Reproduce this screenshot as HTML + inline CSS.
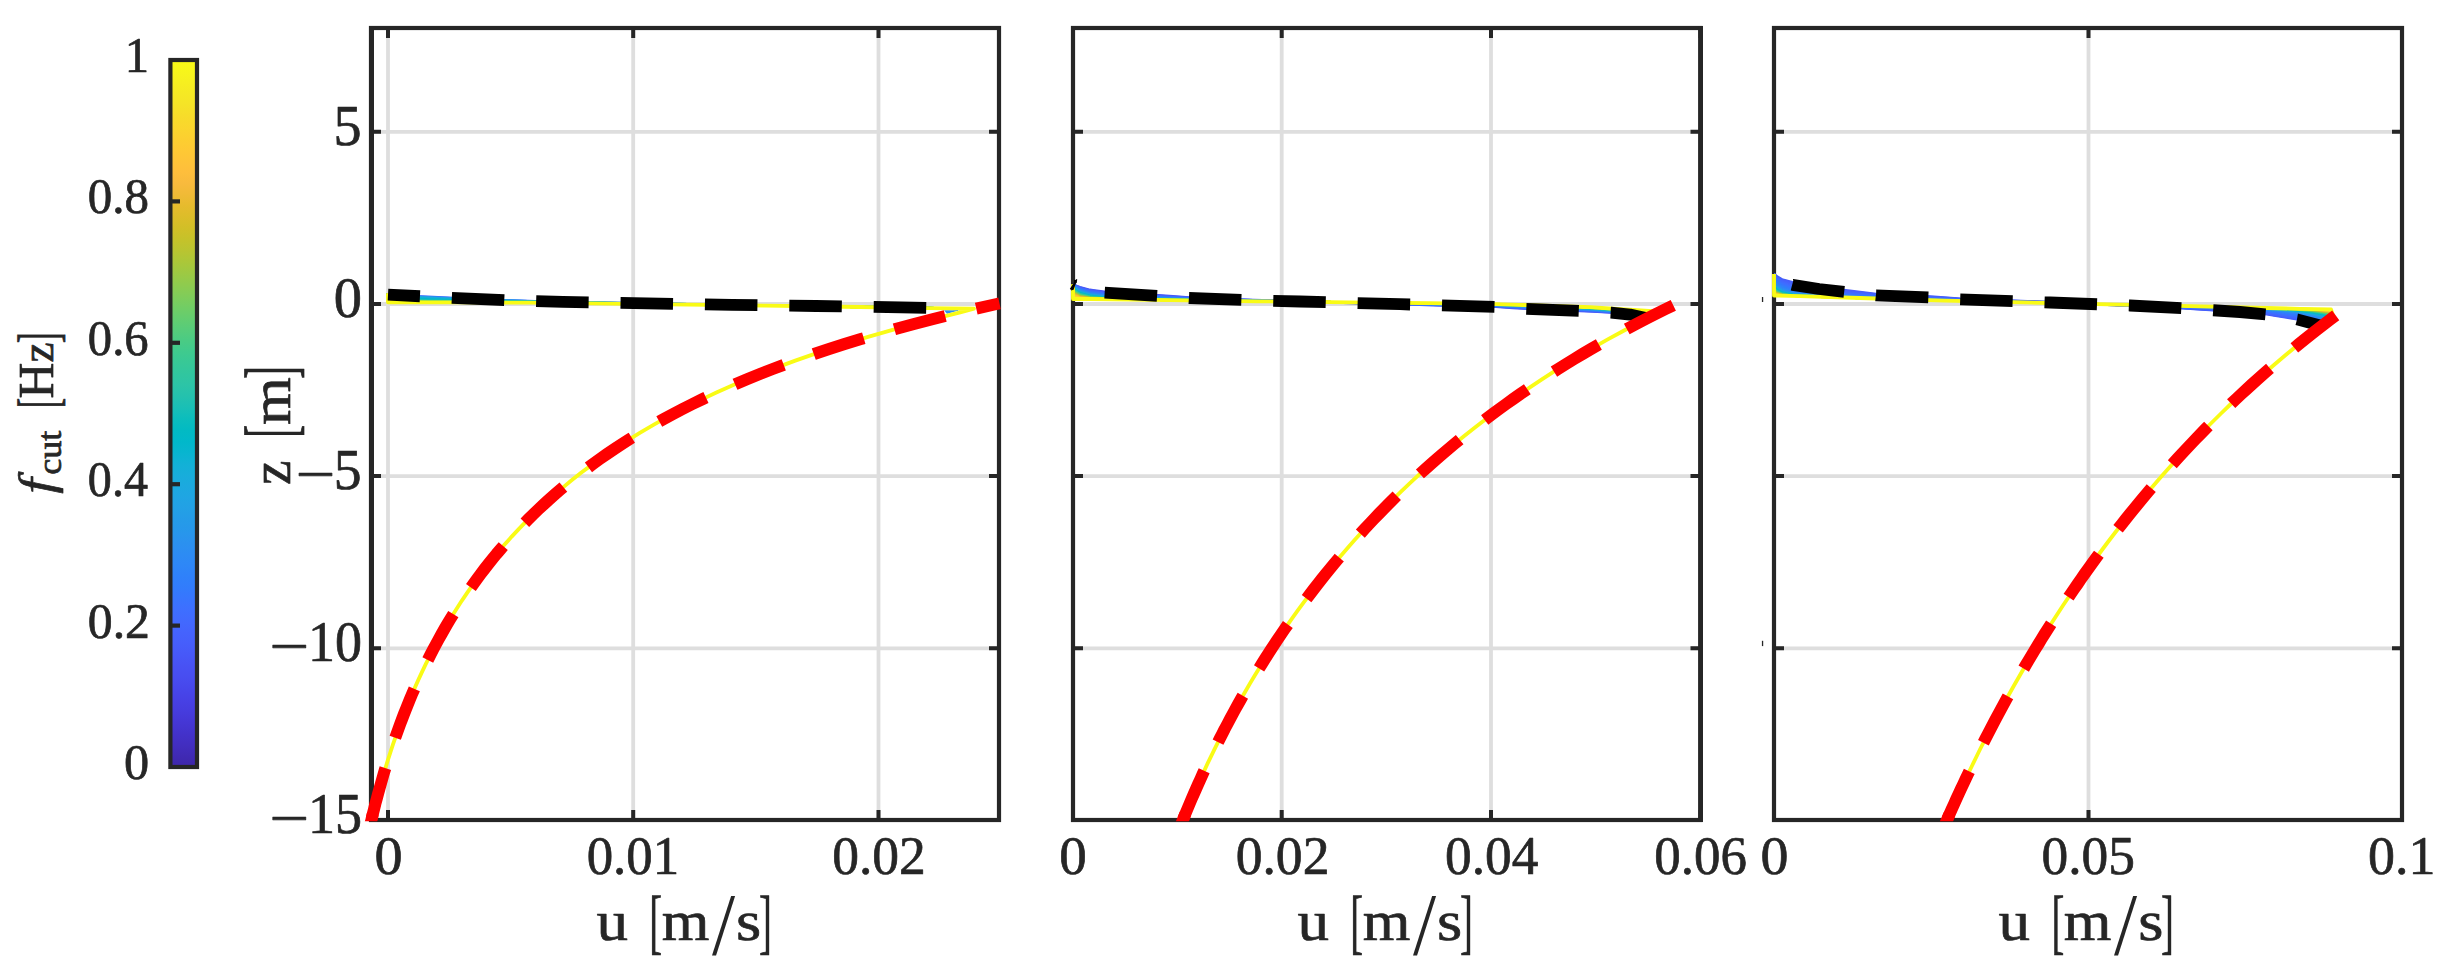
<!DOCTYPE html>
<html lang="en"><head><meta charset="utf-8"><title>u(z) profiles</title>
<style>html,body{margin:0;padding:0;background:#fff;overflow:hidden}svg{display:block}text{font-family:"Liberation Serif","DejaVu Serif",serif;fill:#262626;stroke:#262626;stroke-width:0.7px;stroke-linejoin:round}</style></head>
<body>
<svg width="2446" height="970" viewBox="0 0 2446 970">
<rect width="2446" height="970" fill="#fff"/>
<defs><linearGradient id="pg" gradientUnits="userSpaceOnUse" x1="0" y1="767" x2="0" y2="60">
<stop offset="0.0000" stop-color="#3e26a8"/>
<stop offset="0.0159" stop-color="#402ab4"/>
<stop offset="0.0317" stop-color="#422ec0"/>
<stop offset="0.0476" stop-color="#4332cb"/>
<stop offset="0.0635" stop-color="#4537d5"/>
<stop offset="0.0794" stop-color="#463cde"/>
<stop offset="0.0952" stop-color="#4741e5"/>
<stop offset="0.1111" stop-color="#4747eb"/>
<stop offset="0.1270" stop-color="#484df0"/>
<stop offset="0.1429" stop-color="#4852f4"/>
<stop offset="0.1587" stop-color="#4758f8"/>
<stop offset="0.1746" stop-color="#465efb"/>
<stop offset="0.1905" stop-color="#4563fd"/>
<stop offset="0.2063" stop-color="#4269fe"/>
<stop offset="0.2222" stop-color="#3e6fff"/>
<stop offset="0.2381" stop-color="#3875fe"/>
<stop offset="0.2540" stop-color="#327cfc"/>
<stop offset="0.2698" stop-color="#2f81fa"/>
<stop offset="0.2857" stop-color="#2e87f7"/>
<stop offset="0.3016" stop-color="#2d8cf3"/>
<stop offset="0.3175" stop-color="#2b91ef"/>
<stop offset="0.3333" stop-color="#2797eb"/>
<stop offset="0.3492" stop-color="#259be8"/>
<stop offset="0.3651" stop-color="#23a0e5"/>
<stop offset="0.3810" stop-color="#20a5e3"/>
<stop offset="0.3968" stop-color="#1ca9df"/>
<stop offset="0.4127" stop-color="#18addb"/>
<stop offset="0.4286" stop-color="#12b1d6"/>
<stop offset="0.4444" stop-color="#08b5d0"/>
<stop offset="0.4603" stop-color="#01b8ca"/>
<stop offset="0.4762" stop-color="#02bac3"/>
<stop offset="0.4921" stop-color="#0bbdbd"/>
<stop offset="0.5079" stop-color="#19bfb6"/>
<stop offset="0.5238" stop-color="#24c1ae"/>
<stop offset="0.5397" stop-color="#2cc4a7"/>
<stop offset="0.5556" stop-color="#31c69f"/>
<stop offset="0.5714" stop-color="#37c897"/>
<stop offset="0.5873" stop-color="#3fca8e"/>
<stop offset="0.6032" stop-color="#4acb84"/>
<stop offset="0.6190" stop-color="#57cc7a"/>
<stop offset="0.6349" stop-color="#64cd6f"/>
<stop offset="0.6508" stop-color="#72cd64"/>
<stop offset="0.6667" stop-color="#81cc59"/>
<stop offset="0.6825" stop-color="#8fcb4e"/>
<stop offset="0.6984" stop-color="#9dc943"/>
<stop offset="0.7143" stop-color="#abc739"/>
<stop offset="0.7302" stop-color="#b9c431"/>
<stop offset="0.7460" stop-color="#c5c22a"/>
<stop offset="0.7619" stop-color="#d1bf27"/>
<stop offset="0.7778" stop-color="#dcbd29"/>
<stop offset="0.7937" stop-color="#e6bb2d"/>
<stop offset="0.8095" stop-color="#f0ba36"/>
<stop offset="0.8254" stop-color="#f8ba3d"/>
<stop offset="0.8413" stop-color="#febe3c"/>
<stop offset="0.8571" stop-color="#fec338"/>
<stop offset="0.8730" stop-color="#fec934"/>
<stop offset="0.8889" stop-color="#fccf30"/>
<stop offset="0.9048" stop-color="#fad62d"/>
<stop offset="0.9206" stop-color="#f7dc2a"/>
<stop offset="0.9365" stop-color="#f5e327"/>
<stop offset="0.9524" stop-color="#f5e924"/>
<stop offset="0.9683" stop-color="#f6ef20"/>
<stop offset="0.9841" stop-color="#f7f51b"/>
<stop offset="1.0000" stop-color="#f9fb15"/>
</linearGradient>
<clipPath id="c1"><rect x="363.0" y="28.0" width="638.0" height="793.2"/></clipPath>
<clipPath id="c2"><rect x="1065.0" y="28.0" width="637.5" height="793.2"/></clipPath>
<clipPath id="c3"><rect x="1766.0" y="28.0" width="638.0" height="793.2"/></clipPath>
</defs>
<g id="colorbar">
<rect x="170.4" y="60" width="26.6" height="707" fill="url(#pg)"/>
<rect x="170.4" y="60" width="26.6" height="707" fill="none" stroke="#262626" stroke-width="4.2"/>
<line x1="170.4" y1="625.6" x2="180" y2="625.6" stroke="#262626" stroke-width="4.2"/>
<line x1="170.4" y1="484.2" x2="180" y2="484.2" stroke="#262626" stroke-width="4.2"/>
<line x1="170.4" y1="342.8" x2="180" y2="342.8" stroke="#262626" stroke-width="4.2"/>
<line x1="170.4" y1="201.4" x2="180" y2="201.4" stroke="#262626" stroke-width="4.2"/>
</g>
<g id="panel1">
<path d="M388.0 28.0V820.0M633.2 28.0V820.0M878.5 28.0V820.0M371.0 131.8H999.0M371.0 304.0H999.0M371.0 476.1H999.0M371.0 648.3H999.0" stroke="#dedede" stroke-width="3.8" fill="none"/>
<rect x="371.0" y="28.0" width="628.0" height="792.0" fill="none" stroke="#262626" stroke-width="4.2"/>
<path d="M388.0 820.0v-10M388.0 28.0v10M633.2 820.0v-10M633.2 28.0v10M878.5 820.0v-10M878.5 28.0v10M371.0 131.8h10M999.0 131.8h-10M371.0 304.0h10M999.0 304.0h-10M371.0 476.1h10M999.0 476.1h-10M371.0 648.3h10M999.0 648.3h-10" stroke="#262626" stroke-width="4" fill="none"/>
<line x1="371.6" y1="26" x2="371.6" y2="822" stroke="#262626" stroke-width="4.8"/>
<g clip-path="url(#c1)" fill="none" stroke-linejoin="round">
<polyline points="388.0,293.5 388.0,294.6 408.0,295.6 421.0,296.3 428.0,296.6 448.0,297.6 452.0,297.8 468.0,298.5 488.0,299.4 505.0,300.2 508.0,300.3 528.0,300.9 548.0,301.5 563.0,301.9 568.0,302.0 588.0,302.3 608.0,302.7 628.0,303.1 647.0,303.4 648.0,303.4 668.0,303.7 688.0,304.1 708.0,304.4 728.0,304.7 732.0,304.8 748.0,305.0 768.0,305.3 788.0,305.6 808.0,305.9 816.0,306.0 828.0,306.2 848.0,306.5 868.0,306.9 888.0,307.2 901.0,307.4 908.0,307.5 928.0,307.9 935.0,308.0 948.0,308.7 957.0,309.2 958.0,309.2" stroke="#4367fd" stroke-width="2.2"/>
<polyline points="388.0,293.5 388.0,294.8 408.0,295.9 421.0,296.7 428.0,297.0 448.0,297.9 452.0,298.1 468.0,298.8 488.0,299.6 505.0,300.4 508.0,300.4 528.0,301.0 548.0,301.6 563.0,302.0 568.0,302.1 588.0,302.4 608.0,302.8 628.0,303.1 647.0,303.4 648.0,303.5 668.0,303.8 688.0,304.1 708.0,304.4 728.0,304.8 732.0,304.8 748.0,305.1 768.0,305.3 788.0,305.6 808.0,305.9 816.0,306.0 828.0,306.2 848.0,306.5 868.0,306.9 888.0,307.2 901.0,307.4 908.0,307.5 928.0,307.9 935.0,308.0 948.0,308.7 957.0,309.2 958.0,309.2" stroke="#307ffb" stroke-width="2.2"/>
<polyline points="388.0,293.5 388.0,295.0 408.0,296.3 421.0,297.0 428.0,297.4 448.0,298.3 452.0,298.4 468.0,299.1 488.0,299.9 505.0,300.5 508.0,300.6 528.0,301.1 548.0,301.7 563.0,302.1 568.0,302.1 588.0,302.5 608.0,302.8 628.0,303.2 647.0,303.5 648.0,303.5 668.0,303.8 688.0,304.1 708.0,304.5 728.0,304.8 732.0,304.9 748.0,305.1 768.0,305.4 788.0,305.6 808.0,305.9 816.0,306.0 828.0,306.2 848.0,306.6 868.0,306.9 888.0,307.2 901.0,307.4 908.0,307.5 928.0,307.9 935.0,308.0 948.0,308.7 957.0,309.1 958.0,309.1" stroke="#2895ec" stroke-width="2.2"/>
<polyline points="388.0,293.5 388.0,295.3 408.0,296.6 421.0,297.3 428.0,297.7 448.0,298.6 452.0,298.7 468.0,299.3 488.0,300.1 505.0,300.7 508.0,300.8 528.0,301.2 548.0,301.8 563.0,302.1 568.0,302.2 588.0,302.6 608.0,302.9 628.0,303.2 647.0,303.5 648.0,303.5 668.0,303.9 688.0,304.2 708.0,304.5 728.0,304.8 732.0,304.9 748.0,305.1 768.0,305.4 788.0,305.7 808.0,306.0 816.0,306.1 828.0,306.3 848.0,306.6 868.0,306.9 888.0,307.2 901.0,307.4 908.0,307.6 928.0,307.9 935.0,308.0 948.0,308.7 957.0,309.1 958.0,309.1" stroke="#20a5e2" stroke-width="2.2"/>
<polyline points="388.0,293.5 388.0,295.5 408.0,296.9 421.0,297.7 428.0,298.0 448.0,298.9 452.0,299.0 468.0,299.5 488.0,300.2 505.0,300.8 508.0,300.9 528.0,301.3 548.0,301.8 563.0,302.2 568.0,302.3 588.0,302.6 608.0,302.9 628.0,303.3 647.0,303.6 648.0,303.6 668.0,303.9 688.0,304.2 708.0,304.5 728.0,304.8 732.0,304.9 748.0,305.1 768.0,305.4 788.0,305.7 808.0,306.0 816.0,306.1 828.0,306.3 848.0,306.6 868.0,306.9 888.0,307.2 901.0,307.4 908.0,307.6 928.0,307.9 935.0,308.0 948.0,308.7 957.0,309.1 958.0,309.1" stroke="#1da8e0" stroke-width="2.2"/>
<polyline points="388.0,293.5 388.0,295.7 408.0,297.1 421.0,298.0 428.0,298.4 448.0,299.1 452.0,299.3 468.0,299.8 488.0,300.4 505.0,301.0 508.0,301.0 528.0,301.5 548.0,301.9 563.0,302.3 568.0,302.4 588.0,302.7 608.0,303.0 628.0,303.3 647.0,303.6 648.0,303.6 668.0,303.9 688.0,304.2 708.0,304.5 728.0,304.9 732.0,304.9 748.0,305.1 768.0,305.4 788.0,305.7 808.0,306.0 816.0,306.1 828.0,306.3 848.0,306.6 868.0,306.9 888.0,307.3 901.0,307.5 908.0,307.6 928.0,307.9 935.0,308.0 948.0,308.6 957.0,309.1 958.0,309.1" stroke="#1aacdd" stroke-width="2.2"/>
<polyline points="388.0,293.5 388.0,295.9 408.0,297.4 421.0,298.3 428.0,298.7 448.0,299.4 452.0,299.5 468.0,300.0 488.0,300.6 505.0,301.1 508.0,301.2 528.0,301.6 548.0,302.0 563.0,302.3 568.0,302.4 588.0,302.7 608.0,303.0 628.0,303.4 647.0,303.6 648.0,303.7 668.0,304.0 688.0,304.3 708.0,304.6 728.0,304.9 732.0,304.9 748.0,305.2 768.0,305.4 788.0,305.7 808.0,306.0 816.0,306.1 828.0,306.3 848.0,306.6 868.0,306.9 888.0,307.3 901.0,307.5 908.0,307.6 928.0,307.9 935.0,308.0 948.0,308.6 957.0,309.0 958.0,309.0" stroke="#16aeda" stroke-width="2.2"/>
<polyline points="388.0,293.5 388.0,296.1 408.0,297.7 421.0,298.6 428.0,299.0 448.0,299.6 452.0,299.8 468.0,300.2 488.0,300.8 505.0,301.2 508.0,301.3 528.0,301.7 548.0,302.1 563.0,302.4 568.0,302.5 588.0,302.8 608.0,303.1 628.0,303.4 647.0,303.7 648.0,303.7 668.0,304.0 688.0,304.3 708.0,304.6 728.0,304.9 732.0,305.0 748.0,305.2 768.0,305.5 788.0,305.7 808.0,306.0 816.0,306.2 828.0,306.3 848.0,306.6 868.0,307.0 888.0,307.3 901.0,307.5 908.0,307.6 928.0,307.9 935.0,308.0 948.0,308.6 957.0,309.0 958.0,309.0" stroke="#11b1d6" stroke-width="2.2"/>
<polyline points="388.0,293.5 388.0,296.4 408.0,298.0 421.0,298.8 428.0,299.2 448.0,299.9 452.0,300.0 468.0,300.4 488.0,300.9 505.0,301.3 508.0,301.4 528.0,301.7 548.0,302.2 563.0,302.5 568.0,302.5 588.0,302.8 608.0,303.1 628.0,303.4 647.0,303.7 648.0,303.7 668.0,304.0 688.0,304.3 708.0,304.6 728.0,304.9 732.0,305.0 748.0,305.2 768.0,305.5 788.0,305.8 808.0,306.1 816.0,306.2 828.0,306.4 848.0,306.7 868.0,307.0 888.0,307.3 901.0,307.5 908.0,307.6 928.0,307.9 935.0,308.0 948.0,308.6 957.0,309.0 958.0,309.0" stroke="#0ab4d2" stroke-width="2.2"/>
<polyline points="388.0,293.5 388.0,296.6 408.0,298.2 421.0,299.1 428.0,299.5 448.0,300.1 452.0,300.2 468.0,300.6 488.0,301.1 505.0,301.5 508.0,301.5 528.0,301.8 548.0,302.2 563.0,302.5 568.0,302.6 588.0,302.9 608.0,303.2 628.0,303.5 647.0,303.7 648.0,303.8 668.0,304.1 688.0,304.3 708.0,304.6 728.0,304.9 732.0,305.0 748.0,305.2 768.0,305.5 788.0,305.8 808.0,306.1 816.0,306.2 828.0,306.4 848.0,306.7 868.0,307.0 888.0,307.3 901.0,307.5 908.0,307.6 928.0,307.9 935.0,308.1 948.0,308.6 957.0,309.0 958.0,309.0" stroke="#04b6cd" stroke-width="2.2"/>
<polyline points="388.0,293.5 388.0,296.8 408.0,298.5 421.0,299.4 428.0,299.7 448.0,300.3 452.0,300.4 468.0,300.7 488.0,301.2 505.0,301.6 508.0,301.6 528.0,301.9 548.0,302.3 563.0,302.6 568.0,302.6 588.0,302.9 608.0,303.2 628.0,303.5 647.0,303.8 648.0,303.8 668.0,304.1 688.0,304.4 708.0,304.7 728.0,305.0 732.0,305.0 748.0,305.2 768.0,305.5 788.0,305.8 808.0,306.1 816.0,306.2 828.0,306.4 848.0,306.7 868.0,307.0 888.0,307.3 901.0,307.5 908.0,307.6 928.0,308.0 935.0,308.1 948.0,308.6 957.0,308.9 958.0,308.9" stroke="#01b8c8" stroke-width="2.2"/>
<polyline points="388.0,293.5 388.0,297.0 408.0,298.8 421.0,299.6 428.0,300.0 448.0,300.5 452.0,300.6 468.0,300.9 488.0,301.3 505.0,301.7 508.0,301.7 528.0,302.0 548.0,302.3 563.0,302.6 568.0,302.7 588.0,303.0 608.0,303.3 628.0,303.5 647.0,303.8 648.0,303.8 668.0,304.1 688.0,304.4 708.0,304.7 728.0,305.0 732.0,305.0 748.0,305.2 768.0,305.5 788.0,305.8 808.0,306.1 816.0,306.2 828.0,306.4 848.0,306.7 868.0,307.0 888.0,307.3 901.0,307.5 908.0,307.6 928.0,308.0 935.0,308.1 948.0,308.6 957.0,308.9 958.0,308.9" stroke="#02bac4" stroke-width="2.2"/>
<polyline points="388.0,293.5 388.0,297.2 408.0,299.0 421.0,299.8 428.0,300.2 448.0,300.7 452.0,300.8 468.0,301.1 488.0,301.4 505.0,301.8 508.0,301.8 528.0,302.1 548.0,302.4 563.0,302.7 568.0,302.7 588.0,303.0 608.0,303.3 628.0,303.6 647.0,303.8 648.0,303.8 668.0,304.1 688.0,304.4 708.0,304.7 728.0,305.0 732.0,305.0 748.0,305.3 768.0,305.5 788.0,305.8 808.0,306.1 816.0,306.2 828.0,306.4 848.0,306.7 868.0,307.0 888.0,307.3 901.0,307.5 908.0,307.6 928.0,308.0 935.0,308.1 948.0,308.5 957.0,308.9 958.0,308.9" stroke="#07bcbf" stroke-width="2.2"/>
<polyline points="388.0,293.5 388.0,297.5 408.0,299.2 421.0,300.1 428.0,300.4 448.0,300.9 452.0,301.0 468.0,301.2 488.0,301.6 505.0,301.8 508.0,301.9 528.0,302.1 548.0,302.5 563.0,302.7 568.0,302.8 588.0,303.1 608.0,303.3 628.0,303.6 647.0,303.9 648.0,303.9 668.0,304.2 688.0,304.4 708.0,304.7 728.0,305.0 732.0,305.1 748.0,305.3 768.0,305.5 788.0,305.8 808.0,306.1 816.0,306.2 828.0,306.4 848.0,306.7 868.0,307.0 888.0,307.3 901.0,307.5 908.0,307.7 928.0,308.0 935.0,308.1 948.0,308.5 957.0,308.9 958.0,308.9" stroke="#0fbebb" stroke-width="2.2"/>
<polyline points="388.0,293.5 388.0,297.7 408.0,299.5 421.0,300.3 428.0,300.6 448.0,301.1 452.0,301.1 468.0,301.3 488.0,301.7 505.0,301.9 508.0,302.0 528.0,302.2 548.0,302.5 563.0,302.8 568.0,302.8 588.0,303.1 608.0,303.4 628.0,303.6 647.0,303.9 648.0,303.9 668.0,304.2 688.0,304.5 708.0,304.7 728.0,305.0 732.0,305.1 748.0,305.3 768.0,305.6 788.0,305.8 808.0,306.1 816.0,306.3 828.0,306.4 848.0,306.7 868.0,307.0 888.0,307.3 901.0,307.5 908.0,307.7 928.0,308.0 935.0,308.1 948.0,308.5 957.0,308.8 958.0,308.8" stroke="#17bfb6" stroke-width="2.2"/>
<polyline points="388.0,293.5 388.0,297.9 408.0,299.7 421.0,300.5 428.0,300.8 448.0,301.2 452.0,301.3 468.0,301.5 488.0,301.8 505.0,302.0 508.0,302.0 528.0,302.2 548.0,302.6 563.0,302.8 568.0,302.9 588.0,303.1 608.0,303.4 628.0,303.7 647.0,303.9 648.0,303.9 668.0,304.2 688.0,304.5 708.0,304.7 728.0,305.0 732.0,305.1 748.0,305.3 768.0,305.6 788.0,305.9 808.0,306.1 816.0,306.3 828.0,306.4 848.0,306.7 868.0,307.0 888.0,307.4 901.0,307.6 908.0,307.7 928.0,308.0 935.0,308.1 948.0,308.5 957.0,308.8 958.0,308.8" stroke="#1fc0b1" stroke-width="2.2"/>
<polyline points="388.0,293.5 388.0,298.1 408.0,299.9 421.0,300.7 428.0,301.0 448.0,301.3 452.0,301.4 468.0,301.6 488.0,301.8 505.0,302.1 508.0,302.1 528.0,302.3 548.0,302.6 563.0,302.8 568.0,302.9 588.0,303.2 608.0,303.4 628.0,303.7 647.0,303.9 648.0,303.9 668.0,304.2 688.0,304.5 708.0,304.8 728.0,305.0 732.0,305.1 748.0,305.3 768.0,305.6 788.0,305.9 808.0,306.2 816.0,306.3 828.0,306.5 848.0,306.8 868.0,307.1 888.0,307.4 901.0,307.6 908.0,307.7 928.0,308.0 935.0,308.1 948.0,308.5 957.0,308.8 958.0,308.8" stroke="#26c2ad" stroke-width="2.2"/>
<polyline points="388.0,293.5 388.0,298.3 408.0,300.1 421.0,300.8 428.0,301.1 448.0,301.5 452.0,301.5 468.0,301.7 488.0,301.9 505.0,302.1 508.0,302.2 528.0,302.3 548.0,302.6 563.0,302.9 568.0,302.9 588.0,303.2 608.0,303.4 628.0,303.7 647.0,303.9 648.0,304.0 668.0,304.2 688.0,304.5 708.0,304.8 728.0,305.0 732.0,305.1 748.0,305.3 768.0,305.6 788.0,305.9 808.0,306.2 816.0,306.3 828.0,306.5 848.0,306.8 868.0,307.1 888.0,307.4 901.0,307.6 908.0,307.7 928.0,308.0 935.0,308.1 948.0,308.5 957.0,308.8 958.0,308.8" stroke="#2bc3a8" stroke-width="2.2"/>
<polyline points="388.0,293.5 388.0,298.6 408.0,300.3 421.0,301.0 428.0,301.3 448.0,301.6 452.0,301.6 468.0,301.8 488.0,302.0 505.0,302.2 508.0,302.2 528.0,302.4 548.0,302.7 563.0,302.9 568.0,303.0 588.0,303.2 608.0,303.5 628.0,303.7 647.0,304.0 648.0,304.0 668.0,304.2 688.0,304.5 708.0,304.8 728.0,305.1 732.0,305.1 748.0,305.3 768.0,305.6 788.0,305.9 808.0,306.2 816.0,306.3 828.0,306.5 848.0,306.8 868.0,307.1 888.0,307.4 901.0,307.6 908.0,307.7 928.0,308.0 935.0,308.1 948.0,308.5 957.0,308.7 958.0,308.8" stroke="#2fc5a3" stroke-width="2.2"/>
<polyline points="388.0,293.5 388.0,298.8 408.0,300.5 421.0,301.2 428.0,301.4 448.0,301.7 452.0,301.7 468.0,301.9 488.0,302.1 505.0,302.3 508.0,302.3 528.0,302.4 548.0,302.7 563.0,302.9 568.0,303.0 588.0,303.2 608.0,303.5 628.0,303.7 647.0,304.0 648.0,304.0 668.0,304.3 688.0,304.5 708.0,304.8 728.0,305.1 732.0,305.1 748.0,305.3 768.0,305.6 788.0,305.9 808.0,306.2 816.0,306.3 828.0,306.5 848.0,306.8 868.0,307.1 888.0,307.4 901.0,307.6 908.0,307.7 928.0,308.0 935.0,308.1 948.0,308.5 957.0,308.7 958.0,308.7" stroke="#33c69e" stroke-width="2.2"/>
<polyline points="388.0,293.5 388.0,299.0 408.0,300.7 421.0,301.3 428.0,301.6 448.0,301.8 452.0,301.8 468.0,302.0 488.0,302.1 505.0,302.3 508.0,302.3 528.0,302.5 548.0,302.7 563.0,302.9 568.0,303.0 588.0,303.3 608.0,303.5 628.0,303.7 647.0,304.0 648.0,304.0 668.0,304.3 688.0,304.5 708.0,304.8 728.0,305.1 732.0,305.1 748.0,305.3 768.0,305.6 788.0,305.9 808.0,306.2 816.0,306.3 828.0,306.5 848.0,306.8 868.0,307.1 888.0,307.4 901.0,307.6 908.0,307.7 928.0,308.0 935.0,308.1 948.0,308.4 957.0,308.7 958.0,308.7" stroke="#36c898" stroke-width="2.2"/>
<polyline points="388.0,293.5 388.0,299.2 408.0,300.9 421.0,301.5 428.0,301.7 448.0,301.9 452.0,301.9 468.0,302.0 488.0,302.2 505.0,302.4 508.0,302.4 528.0,302.5 548.0,302.8 563.0,303.0 568.0,303.0 588.0,303.3 608.0,303.5 628.0,303.8 647.0,304.0 648.0,304.0 668.0,304.3 688.0,304.5 708.0,304.8 728.0,305.1 732.0,305.1 748.0,305.3 768.0,305.6 788.0,305.9 808.0,306.2 816.0,306.3 828.0,306.5 848.0,306.8 868.0,307.1 888.0,307.4 901.0,307.6 908.0,307.7 928.0,308.0 935.0,308.1 948.0,308.4 957.0,308.7 958.0,308.7" stroke="#3bc992" stroke-width="2.2"/>
<polyline points="388.0,293.5 388.0,299.4 408.0,301.0 421.0,301.6 428.0,301.8 448.0,302.0 452.0,302.0 468.0,302.1 488.0,302.3 505.0,302.4 508.0,302.4 528.0,302.5 548.0,302.8 563.0,303.0 568.0,303.0 588.0,303.3 608.0,303.5 628.0,303.8 647.0,304.0 648.0,304.0 668.0,304.3 688.0,304.6 708.0,304.8 728.0,305.1 732.0,305.1 748.0,305.3 768.0,305.6 788.0,305.9 808.0,306.2 816.0,306.3 828.0,306.5 848.0,306.8 868.0,307.1 888.0,307.4 901.0,307.6 908.0,307.7 928.0,308.0 935.0,308.1 948.0,308.4 957.0,308.7 958.0,308.7" stroke="#48cb86" stroke-width="2.2"/>
<polyline points="388.0,293.5 388.0,299.7 408.0,301.2 421.0,301.7 428.0,301.9 448.0,302.1 452.0,302.1 468.0,302.2 488.0,302.3 505.0,302.4 508.0,302.4 528.0,302.6 548.0,302.8 563.0,303.0 568.0,303.1 588.0,303.3 608.0,303.5 628.0,303.8 647.0,304.0 648.0,304.0 668.0,304.3 688.0,304.6 708.0,304.8 728.0,305.1 732.0,305.1 748.0,305.4 768.0,305.6 788.0,305.9 808.0,306.2 816.0,306.3 828.0,306.5 848.0,306.8 868.0,307.1 888.0,307.4 901.0,307.6 908.0,307.7 928.0,308.0 935.0,308.1 948.0,308.4 957.0,308.6 958.0,308.6" stroke="#58cc79" stroke-width="2.2"/>
<polyline points="388.0,293.5 388.0,299.9 408.0,301.4 421.0,301.8 428.0,302.0 448.0,302.1 452.0,302.1 468.0,302.2 488.0,302.3 505.0,302.5 508.0,302.5 528.0,302.6 548.0,302.8 563.0,303.0 568.0,303.1 588.0,303.3 608.0,303.6 628.0,303.8 647.0,304.0 648.0,304.0 668.0,304.3 688.0,304.6 708.0,304.8 728.0,305.1 732.0,305.1 748.0,305.4 768.0,305.6 788.0,305.9 808.0,306.2 816.0,306.3 828.0,306.5 848.0,306.8 868.0,307.1 888.0,307.4 901.0,307.6 908.0,307.7 928.0,308.0 935.0,308.1 948.0,308.4 957.0,308.6 958.0,308.6" stroke="#68cd6b" stroke-width="2.2"/>
<polyline points="388.0,293.5 388.0,300.1 408.0,301.5 421.0,301.9 428.0,302.0 448.0,302.2 452.0,302.2 468.0,302.3 488.0,302.4 505.0,302.5 508.0,302.5 528.0,302.6 548.0,302.8 563.0,303.0 568.0,303.1 588.0,303.3 608.0,303.6 628.0,303.8 647.0,304.0 648.0,304.0 668.0,304.3 688.0,304.6 708.0,304.8 728.0,305.1 732.0,305.2 748.0,305.4 768.0,305.6 788.0,305.9 808.0,306.2 816.0,306.3 828.0,306.5 848.0,306.8 868.0,307.1 888.0,307.4 901.0,307.6 908.0,307.7 928.0,308.0 935.0,308.1 948.0,308.4 957.0,308.6 958.0,308.6" stroke="#7acc5d" stroke-width="2.2"/>
<polyline points="388.0,293.5 388.0,300.3 408.0,301.6 421.0,302.0 428.0,302.1 448.0,302.2 452.0,302.2 468.0,302.3 488.0,302.4 505.0,302.5 508.0,302.5 528.0,302.6 548.0,302.9 563.0,303.0 568.0,303.1 588.0,303.3 608.0,303.6 628.0,303.8 647.0,304.0 648.0,304.1 668.0,304.3 688.0,304.6 708.0,304.8 728.0,305.1 732.0,305.2 748.0,305.4 768.0,305.6 788.0,305.9 808.0,306.2 816.0,306.3 828.0,306.5 848.0,306.8 868.0,307.1 888.0,307.4 901.0,307.6 908.0,307.7 928.0,308.0 935.0,308.1 948.0,308.4 957.0,308.6 958.0,308.6" stroke="#8dcb4f" stroke-width="2.2"/>
<polyline points="388.0,293.5 388.0,300.5 408.0,301.8 421.0,302.1 428.0,302.2 448.0,302.3 452.0,302.3 468.0,302.3 488.0,302.4 505.0,302.5 508.0,302.5 528.0,302.6 548.0,302.9 563.0,303.1 568.0,303.1 588.0,303.4 608.0,303.6 628.0,303.8 647.0,304.0 648.0,304.1 668.0,304.3 688.0,304.6 708.0,304.8 728.0,305.1 732.0,305.2 748.0,305.4 768.0,305.6 788.0,305.9 808.0,306.2 816.0,306.3 828.0,306.5 848.0,306.8 868.0,307.1 888.0,307.4 901.0,307.6 908.0,307.7 928.0,308.0 935.0,308.1 948.0,308.4 957.0,308.5 958.0,308.6" stroke="#9fc942" stroke-width="2.2"/>
<polyline points="388.0,293.5 388.0,300.8 408.0,301.9 421.0,302.1 428.0,302.2 448.0,302.3 452.0,302.3 468.0,302.4 488.0,302.5 505.0,302.6 508.0,302.6 528.0,302.7 548.0,302.9 563.0,303.1 568.0,303.1 588.0,303.4 608.0,303.6 628.0,303.8 647.0,304.1 648.0,304.1 668.0,304.3 688.0,304.6 708.0,304.8 728.0,305.1 732.0,305.2 748.0,305.4 768.0,305.6 788.0,305.9 808.0,306.2 816.0,306.3 828.0,306.5 848.0,306.8 868.0,307.1 888.0,307.4 901.0,307.6 908.0,307.7 928.0,308.1 935.0,308.1 948.0,308.4 957.0,308.5 958.0,308.5" stroke="#b0c636" stroke-width="2.2"/>
<polyline points="388.0,293.5 388.0,301.0 408.0,302.0 421.0,302.2 428.0,302.3 448.0,302.3 452.0,302.3 468.0,302.4 488.0,302.5 505.0,302.6 508.0,302.6 528.0,302.7 548.0,302.9 563.0,303.1 568.0,303.1 588.0,303.4 608.0,303.6 628.0,303.8 647.0,304.1 648.0,304.1 668.0,304.3 688.0,304.6 708.0,304.9 728.0,305.1 732.0,305.2 748.0,305.4 768.0,305.6 788.0,305.9 808.0,306.2 816.0,306.3 828.0,306.5 848.0,306.8 868.0,307.1 888.0,307.4 901.0,307.6 908.0,307.7 928.0,308.1 935.0,308.1 948.0,308.3 957.0,308.5 958.0,308.5" stroke="#d0c027" stroke-width="2.2"/>
<polyline points="388.0,293.5 388.0,301.2 408.0,302.1 421.0,302.2 428.0,302.3 448.0,302.3 452.0,302.4 468.0,302.4 488.0,302.5 505.0,302.6 508.0,302.6 528.0,302.7 548.0,302.9 563.0,303.1 568.0,303.1 588.0,303.4 608.0,303.6 628.0,303.8 647.0,304.1 648.0,304.1 668.0,304.3 688.0,304.6 708.0,304.9 728.0,305.1 732.0,305.2 748.0,305.4 768.0,305.6 788.0,305.9 808.0,306.2 816.0,306.3 828.0,306.5 848.0,306.8 868.0,307.1 888.0,307.4 901.0,307.6 908.0,307.7 928.0,308.1 935.0,308.1 948.0,308.3 957.0,308.5 958.0,308.5" stroke="#eaba31" stroke-width="2.2"/>
<polyline points="388.0,293.5 388.0,301.4 408.0,302.1 421.0,302.3 428.0,302.3 448.0,302.4 452.0,302.4 468.0,302.4 488.0,302.5 505.0,302.6 508.0,302.6 528.0,302.7 548.0,302.9 563.0,303.1 568.0,303.1 588.0,303.4 608.0,303.6 628.0,303.8 647.0,304.1 648.0,304.1 668.0,304.3 688.0,304.6 708.0,304.9 728.0,305.1 732.0,305.2 748.0,305.4 768.0,305.6 788.0,305.9 808.0,306.2 816.0,306.4 828.0,306.5 848.0,306.8 868.0,307.1 888.0,307.4 901.0,307.6 908.0,307.7 928.0,308.1 935.0,308.1 948.0,308.3 957.0,308.5 958.0,308.5" stroke="#fdbd3d" stroke-width="2.2"/>
<polyline points="388.0,293.5 388.0,301.6 408.0,302.2 421.0,302.3 428.0,302.3 448.0,302.4 452.0,302.4 468.0,302.4 488.0,302.5 505.0,302.6 508.0,302.6 528.0,302.7 548.0,302.9 563.0,303.1 568.0,303.1 588.0,303.4 608.0,303.6 628.0,303.8 647.0,304.1 648.0,304.1 668.0,304.3 688.0,304.6 708.0,304.9 728.0,305.1 732.0,305.2 748.0,305.4 768.0,305.6 788.0,305.9 808.0,306.2 816.0,306.4 828.0,306.5 848.0,306.8 868.0,307.1 888.0,307.4 901.0,307.6 908.0,307.8 928.0,308.1 935.0,308.2 948.0,308.3 957.0,308.4 958.0,308.5" stroke="#fdcc32" stroke-width="2.2"/>
<polyline points="388.0,293.5 388.0,301.9 408.0,302.3 421.0,302.3 428.0,302.3 448.0,302.4 452.0,302.4 468.0,302.4 488.0,302.5 505.0,302.6 508.0,302.6 528.0,302.7 548.0,302.9 563.0,303.1 568.0,303.1 588.0,303.4 608.0,303.6 628.0,303.8 647.0,304.1 648.0,304.1 668.0,304.3 688.0,304.6 708.0,304.9 728.0,305.1 732.0,305.2 748.0,305.4 768.0,305.6 788.0,305.9 808.0,306.2 816.0,306.4 828.0,306.5 848.0,306.8 868.0,307.1 888.0,307.4 901.0,307.6 908.0,307.8 928.0,308.1 935.0,308.2 948.0,308.3 957.0,308.4 958.0,308.4" stroke="#f7dc2a" stroke-width="2.2"/>
<polyline points="388.0,293.5 388.0,302.1 408.0,302.3 421.0,302.3 428.0,302.4 448.0,302.4 452.0,302.4 468.0,302.4 488.0,302.5 505.0,302.6 508.0,302.6 528.0,302.7 548.0,302.9 563.0,303.1 568.0,303.1 588.0,303.4 608.0,303.6 628.0,303.8 647.0,304.1 648.0,304.1 668.0,304.3 688.0,304.6 708.0,304.9 728.0,305.1 732.0,305.2 748.0,305.4 768.0,305.6 788.0,305.9 808.0,306.2 816.0,306.4 828.0,306.5 848.0,306.8 868.0,307.1 888.0,307.4 901.0,307.6 908.0,307.8 928.0,308.1 935.0,308.2 948.0,308.3 957.0,308.4 958.0,308.4" stroke="#f5ec22" stroke-width="2.2"/>
<polyline points="388.0,293.5 388.0,302.3 408.0,302.3 421.0,302.3 428.0,302.4 448.0,302.4 452.0,302.4 468.0,302.4 488.0,302.5 505.0,302.6 508.0,302.6 528.0,302.7 548.0,302.9 563.0,303.1 568.0,303.1 588.0,303.4 608.0,303.6 628.0,303.8 647.0,304.1 648.0,304.1 668.0,304.3 688.0,304.6 708.0,304.9 728.0,305.1 732.0,305.2 748.0,305.4 768.0,305.6 788.0,305.9 808.0,306.2 816.0,306.4 828.0,306.5 848.0,306.8 868.0,307.1 888.0,307.4 901.0,307.6 908.0,307.8 928.0,308.1 935.0,308.2 948.0,308.3 957.0,308.4 958.0,308.4" stroke="#f9fb15" stroke-width="2.2"/>
<polygon points="944,310.2 959.5,310.2 947,313.8" fill="#2d8cf3" stroke="none"/>
<polyline points="388.0,293.5 388.0,302.3 460.0,302.4 530.0,302.7 650.0,304.1 765.0,305.6 860.0,307.0 930.0,308.1 974.0,308.6 959.3,312.6 927.0,320.6 897.0,328.6 868.9,336.6 842.7,344.6 818.2,352.6 795.3,360.6 773.7,368.6 753.5,376.6 734.4,384.6 716.4,392.6 699.4,400.6 683.4,408.6 668.2,416.6 653.9,424.6 640.2,432.6 627.3,440.6 615.0,448.6 603.2,456.6 592.1,464.6 581.4,472.6 571.3,480.6 561.6,488.6 552.4,496.6 543.5,504.6 535.0,512.6 526.9,520.6 519.2,528.6 511.7,536.6 504.6,544.6 497.7,552.6 491.1,560.6 484.8,568.6 478.8,576.6 472.9,584.6 467.3,592.6 461.9,600.6 456.8,608.6 451.8,616.6 447.0,624.6 442.4,632.6 437.9,640.6 433.6,648.6 429.5,656.6 425.5,664.6 421.7,672.6 418.0,680.6 414.5,688.6 411.0,696.6 407.7,704.6 404.6,712.6 401.5,720.6 398.5,728.6 395.7,736.6 392.9,744.6 390.3,752.6 387.7,760.6 385.3,768.6 382.9,776.6 380.6,784.6 378.4,792.6 376.2,800.6 374.2,808.6 372.2,816.6 371.8,818.0" stroke="#f9fb15" stroke-width="3.8"/>
<polyline points="388.0,294.6 421.0,296.3 452.0,297.8 505.0,300.2 563.0,301.9 647.0,303.4 732.0,304.8 816.0,306.0 901.0,307.4 935.0,308.0 957.0,309.2" stroke="#000" stroke-width="11.8" stroke-dasharray="52.5 31.9" stroke-dashoffset="20.5"/>
<polyline id="red1" points="370.4,824.0 371.6,819.0 372.8,814.0 374.1,809.0 375.3,804.0 376.7,799.0 378.0,794.0 379.4,789.0 380.8,784.0 382.2,779.0 383.6,774.0 385.1,769.0 386.7,764.0 388.2,759.0 389.8,754.0 391.5,749.0 393.1,744.0 394.8,739.0 396.6,734.0 398.4,729.0 400.2,724.0 402.1,719.0 404.0,714.0 406.0,709.0 408.0,704.0 410.0,699.0 412.1,694.0 414.3,689.0 416.5,684.0 418.7,679.0 421.0,674.0 423.4,669.0 425.8,664.0 428.3,659.0 430.8,654.0 433.4,649.0 436.1,644.0 438.8,639.0 441.6,634.0 444.4,629.0 447.3,624.0 450.3,619.0 453.4,614.0 456.5,609.0 459.7,604.0 463.0,599.0 466.4,594.0 469.8,589.0 473.4,584.0 477.0,579.0 480.7,574.0 484.5,569.0 488.4,564.0 492.4,559.0 496.5,554.0 500.8,549.0 505.1,544.0 509.5,539.0 514.1,534.0 518.8,529.0 523.6,524.0 528.5,519.0 533.6,514.0 538.8,509.0 544.2,504.0 549.7,499.0 555.3,494.0 561.1,489.0 567.1,484.0 573.3,479.0 579.6,474.0 586.2,469.0 592.9,464.0 599.8,459.0 607.0,454.0 614.4,449.0 622.0,444.0 629.8,439.0 637.9,434.0 646.3,429.0 654.9,424.0 663.8,419.0 673.1,414.0 682.6,409.0 692.5,404.0 702.8,399.0 713.4,394.0 724.4,389.0 735.8,384.0 747.6,379.0 759.9,374.0 772.7,369.0 785.9,364.0 799.7,359.0 814.1,354.0 829.1,349.0 844.6,344.0 860.9,339.0 877.8,334.0 895.5,329.0 914.0,324.0 933.3,319.0 953.5,314.0 974.6,309.0 996.7,304.0 999.5,303.4" stroke="#ff0000" stroke-width="12" stroke-dasharray="52.5 31.9" stroke-dashoffset="79"/>
<polyline points="370.4,824.0 371.4,820.0 372.8,814.0" stroke="#ff0000" stroke-width="12"/>
</g>
</g>
<g id="panel2">
<path d="M1281.7 28.0V820.0M1491.0 28.0V820.0M1073.0 131.8H1700.5M1073.0 304.0H1700.5M1073.0 476.1H1700.5M1073.0 648.3H1700.5" stroke="#dedede" stroke-width="3.8" fill="none"/>
<rect x="1073.0" y="28.0" width="627.5" height="792.0" fill="none" stroke="#262626" stroke-width="4.2"/>
<path d="M1073.0 820.0v-10M1073.0 28.0v10M1281.7 820.0v-10M1281.7 28.0v10M1491.0 820.0v-10M1491.0 28.0v10M1700.5 820.0v-10M1700.5 28.0v10M1073.0 131.8h10M1700.5 131.8h-10M1073.0 304.0h10M1700.5 304.0h-10M1073.0 476.1h10M1700.5 476.1h-10M1073.0 648.3h10M1700.5 648.3h-10" stroke="#262626" stroke-width="4" fill="none"/>
<line x1="1700.6" y1="26" x2="1700.6" y2="822" stroke="#262626" stroke-width="4.8"/>
<g clip-path="url(#c2)" fill="none" stroke-linejoin="round">
<polyline points="1073.0,284.5 1073.0,284.5 1080.0,287.1 1090.0,289.7 1093.0,290.0 1104.6,291.5 1113.0,292.1 1133.0,293.4 1153.0,294.8 1158.3,295.2 1173.0,296.2 1189.0,297.3 1193.0,297.5 1213.0,298.3 1233.0,299.1 1243.0,299.5 1253.0,299.8 1273.0,300.4 1293.0,301.0 1300.0,301.2 1313.0,301.5 1333.0,302.7 1353.0,303.2 1373.0,303.7 1393.0,304.2 1400.0,304.4 1413.0,304.7 1433.0,305.3 1453.0,305.8 1473.0,306.4 1493.0,306.9 1496.0,307.0 1513.0,308.1 1526.0,309.0 1533.0,309.2 1553.0,310.0 1573.0,310.8 1580.0,311.1 1593.0,311.7 1611.0,312.6 1613.0,312.9 1630.0,314.6 1633.0,315.3 1646.0,318.0 1646.5,318.2" stroke="#4755f6" stroke-width="2.2"/>
<polyline points="1073.0,284.5 1073.0,284.5 1080.0,287.6 1090.0,290.3 1093.0,290.7 1104.6,292.3 1113.0,292.9 1133.0,294.1 1153.0,295.4 1158.3,295.7 1173.0,296.6 1189.0,297.7 1193.0,297.8 1213.0,298.6 1233.0,299.3 1243.0,299.7 1253.0,300.0 1273.0,300.5 1293.0,301.0 1300.0,301.2 1313.0,301.6 1333.0,302.6 1353.0,303.1 1373.0,303.6 1393.0,304.0 1400.0,304.2 1413.0,304.5 1433.0,305.0 1453.0,305.6 1473.0,306.1 1493.0,306.6 1496.0,306.7 1513.0,307.7 1526.0,308.5 1533.0,308.8 1553.0,309.6 1573.0,310.4 1580.0,310.7 1593.0,311.4 1611.0,312.4 1613.0,312.6 1630.0,314.4 1633.0,315.0 1646.0,317.7 1646.9,318.0" stroke="#475cfa" stroke-width="2.2"/>
<polyline points="1073.0,284.5 1073.0,284.5 1080.0,288.1 1090.0,290.9 1093.0,291.3 1104.6,293.0 1113.0,293.6 1133.0,294.7 1153.0,295.9 1158.3,296.2 1173.0,297.0 1189.0,298.0 1193.0,298.1 1213.0,298.8 1233.0,299.5 1243.0,299.9 1253.0,300.1 1273.0,300.6 1293.0,301.1 1300.0,301.3 1313.0,301.6 1333.0,302.5 1353.0,303.0 1373.0,303.4 1393.0,303.9 1400.0,304.1 1413.0,304.4 1433.0,304.8 1453.0,305.3 1473.0,305.8 1493.0,306.3 1496.0,306.4 1513.0,307.4 1526.0,308.2 1533.0,308.4 1553.0,309.2 1573.0,310.0 1580.0,310.3 1593.0,311.0 1611.0,312.1 1613.0,312.3 1630.0,314.1 1633.0,314.7 1646.0,317.5 1647.2,317.8" stroke="#4464fd" stroke-width="2.2"/>
<polyline points="1073.0,284.5 1073.0,284.5 1080.0,288.6 1090.0,291.5 1093.0,292.0 1104.6,293.6 1113.0,294.3 1133.0,295.3 1153.0,296.3 1158.3,296.6 1173.0,297.4 1189.0,298.3 1193.0,298.4 1213.0,299.0 1233.0,299.7 1243.0,300.0 1253.0,300.2 1273.0,300.7 1293.0,301.2 1300.0,301.3 1313.0,301.7 1333.0,302.5 1353.0,302.9 1373.0,303.3 1393.0,303.8 1400.0,303.9 1413.0,304.2 1433.0,304.7 1453.0,305.1 1473.0,305.6 1493.0,306.0 1496.0,306.1 1513.0,307.1 1526.0,307.8 1533.0,308.1 1553.0,308.8 1573.0,309.7 1580.0,310.0 1593.0,310.7 1611.0,311.9 1613.0,312.1 1630.0,313.9 1633.0,314.5 1646.0,317.2 1647.6,317.6" stroke="#406cfe" stroke-width="2.2"/>
<polyline points="1073.0,284.5 1073.0,284.5 1080.0,289.2 1090.0,292.0 1093.0,292.5 1104.6,294.2 1113.0,294.9 1133.0,295.8 1153.0,296.8 1158.3,297.0 1173.0,297.7 1189.0,298.5 1193.0,298.6 1213.0,299.2 1233.0,299.8 1243.0,300.1 1253.0,300.4 1273.0,300.8 1293.0,301.2 1300.0,301.4 1313.0,301.7 1333.0,302.4 1353.0,302.8 1373.0,303.2 1393.0,303.6 1400.0,303.8 1413.0,304.1 1433.0,304.5 1453.0,304.9 1473.0,305.4 1493.0,305.8 1496.0,305.9 1513.0,306.8 1526.0,307.5 1533.0,307.7 1553.0,308.5 1573.0,309.4 1580.0,309.7 1593.0,310.4 1611.0,311.6 1613.0,311.8 1630.0,313.7 1633.0,314.2 1646.0,316.9 1648.0,317.4" stroke="#3974fe" stroke-width="2.2"/>
<polyline points="1073.0,284.5 1073.0,284.9 1080.0,289.7 1090.0,292.6 1093.0,293.1 1104.6,294.8 1113.0,295.4 1133.0,296.3 1153.0,297.2 1158.3,297.4 1173.0,298.1 1189.0,298.7 1193.0,298.9 1213.0,299.4 1233.0,300.0 1243.0,300.3 1253.0,300.5 1273.0,300.9 1293.0,301.3 1300.0,301.4 1313.0,301.7 1333.0,302.4 1353.0,302.8 1373.0,303.2 1393.0,303.5 1400.0,303.7 1413.0,303.9 1433.0,304.3 1453.0,304.8 1473.0,305.2 1493.0,305.6 1496.0,305.7 1513.0,306.5 1526.0,307.2 1533.0,307.4 1553.0,308.2 1573.0,309.1 1580.0,309.4 1593.0,310.2 1611.0,311.4 1613.0,311.6 1630.0,313.4 1633.0,314.0 1646.0,316.6 1648.3,317.2" stroke="#317dfc" stroke-width="2.2"/>
<polyline points="1073.0,284.5 1073.0,285.3 1080.0,290.1 1090.0,293.1 1093.0,293.6 1104.6,295.3 1113.0,295.9 1133.0,296.7 1153.0,297.5 1158.3,297.7 1173.0,298.3 1189.0,299.0 1193.0,299.1 1213.0,299.6 1233.0,300.1 1243.0,300.4 1253.0,300.6 1273.0,301.0 1293.0,301.3 1300.0,301.5 1313.0,301.7 1333.0,302.4 1353.0,302.7 1373.0,303.1 1393.0,303.4 1400.0,303.6 1413.0,303.8 1433.0,304.2 1453.0,304.6 1473.0,305.0 1493.0,305.4 1496.0,305.5 1513.0,306.3 1526.0,306.9 1533.0,307.2 1553.0,307.9 1573.0,308.8 1580.0,309.1 1593.0,309.9 1611.0,311.2 1613.0,311.4 1630.0,313.2 1633.0,313.8 1646.0,316.3 1648.7,317.0" stroke="#2e84f8" stroke-width="2.2"/>
<polyline points="1073.0,284.5 1073.0,285.8 1080.0,290.6 1090.0,293.6 1093.0,294.1 1104.6,295.8 1113.0,296.4 1133.0,297.1 1153.0,297.8 1158.3,298.0 1173.0,298.6 1189.0,299.2 1193.0,299.3 1213.0,299.7 1233.0,300.2 1243.0,300.5 1253.0,300.7 1273.0,301.0 1293.0,301.4 1300.0,301.5 1313.0,301.8 1333.0,302.3 1353.0,302.7 1373.0,303.0 1393.0,303.4 1400.0,303.5 1413.0,303.7 1433.0,304.1 1453.0,304.5 1473.0,304.8 1493.0,305.2 1496.0,305.3 1513.0,306.1 1526.0,306.7 1533.0,306.9 1553.0,307.6 1573.0,308.6 1580.0,308.9 1593.0,309.7 1611.0,311.0 1613.0,311.2 1630.0,313.0 1633.0,313.5 1646.0,316.1 1649.1,316.8" stroke="#2d8cf3" stroke-width="2.2"/>
<polyline points="1073.0,284.5 1073.0,286.3 1080.0,291.1 1090.0,294.0 1093.0,294.5 1104.6,296.2 1113.0,296.8 1133.0,297.4 1153.0,298.1 1158.3,298.3 1173.0,298.8 1189.0,299.3 1193.0,299.4 1213.0,299.9 1233.0,300.3 1243.0,300.5 1253.0,300.7 1273.0,301.1 1293.0,301.4 1300.0,301.5 1313.0,301.8 1333.0,302.3 1353.0,302.6 1373.0,303.0 1393.0,303.3 1400.0,303.4 1413.0,303.6 1433.0,304.0 1453.0,304.3 1473.0,304.7 1493.0,305.1 1496.0,305.1 1513.0,305.9 1526.0,306.5 1533.0,306.7 1553.0,307.4 1573.0,308.3 1580.0,308.7 1593.0,309.4 1611.0,310.8 1613.0,311.0 1630.0,312.8 1633.0,313.3 1646.0,315.8 1649.4,316.7" stroke="#2895ec" stroke-width="2.2"/>
<polyline points="1073.0,284.5 1073.0,286.7 1080.0,291.5 1090.0,294.4 1093.0,295.0 1104.6,296.6 1113.0,297.1 1133.0,297.8 1153.0,298.4 1158.3,298.5 1173.0,299.0 1189.0,299.5 1193.0,299.6 1213.0,300.0 1233.0,300.4 1243.0,300.6 1253.0,300.8 1273.0,301.1 1293.0,301.5 1300.0,301.6 1313.0,301.8 1333.0,302.3 1353.0,302.6 1373.0,302.9 1393.0,303.2 1400.0,303.3 1413.0,303.5 1433.0,303.9 1453.0,304.2 1473.0,304.6 1493.0,304.9 1496.0,305.0 1513.0,305.7 1526.0,306.3 1533.0,306.5 1553.0,307.2 1573.0,308.1 1580.0,308.5 1593.0,309.2 1611.0,310.6 1613.0,310.8 1630.0,312.6 1633.0,313.1 1646.0,315.5 1649.8,316.5" stroke="#249ee6" stroke-width="2.2"/>
<polyline points="1073.0,284.5 1073.0,287.2 1080.0,292.0 1090.0,294.9 1093.0,295.4 1104.6,296.9 1113.0,297.5 1133.0,298.0 1153.0,298.6 1158.3,298.8 1173.0,299.2 1189.0,299.6 1193.0,299.7 1213.0,300.1 1233.0,300.5 1243.0,300.7 1253.0,300.9 1273.0,301.2 1293.0,301.5 1300.0,301.6 1313.0,301.8 1333.0,302.3 1353.0,302.5 1373.0,302.8 1393.0,303.1 1400.0,303.3 1413.0,303.5 1433.0,303.8 1453.0,304.1 1473.0,304.5 1493.0,304.8 1496.0,304.9 1513.0,305.6 1526.0,306.1 1533.0,306.3 1553.0,307.0 1573.0,307.9 1580.0,308.3 1593.0,309.0 1611.0,310.4 1613.0,310.6 1630.0,312.4 1633.0,312.9 1646.0,315.3 1650.2,316.3" stroke="#1fa6e2" stroke-width="2.2"/>
<polyline points="1073.0,284.5 1073.0,287.7 1080.0,292.4 1090.0,295.2 1093.0,295.8 1104.6,297.3 1113.0,297.7 1133.0,298.3 1153.0,298.8 1158.3,298.9 1173.0,299.3 1189.0,299.7 1193.0,299.8 1213.0,300.2 1233.0,300.6 1243.0,300.8 1253.0,300.9 1273.0,301.2 1293.0,301.5 1300.0,301.6 1313.0,301.8 1333.0,302.2 1353.0,302.5 1373.0,302.8 1393.0,303.1 1400.0,303.2 1413.0,303.4 1433.0,303.7 1453.0,304.0 1473.0,304.4 1493.0,304.7 1496.0,304.7 1513.0,305.4 1526.0,305.9 1533.0,306.2 1553.0,306.9 1573.0,307.8 1580.0,308.1 1593.0,308.8 1611.0,310.2 1613.0,310.4 1630.0,312.2 1633.0,312.7 1646.0,315.0 1650.5,316.1" stroke="#18aedb" stroke-width="2.2"/>
<polyline points="1073.0,284.5 1073.0,288.2 1080.0,292.9 1090.0,295.6 1093.0,296.1 1104.6,297.5 1113.0,298.0 1133.0,298.5 1153.0,299.0 1158.3,299.1 1173.0,299.5 1189.0,299.9 1193.0,299.9 1213.0,300.3 1233.0,300.6 1243.0,300.8 1253.0,301.0 1273.0,301.3 1293.0,301.5 1300.0,301.6 1313.0,301.8 1333.0,302.2 1353.0,302.5 1373.0,302.8 1393.0,303.0 1400.0,303.1 1413.0,303.3 1433.0,303.6 1453.0,303.9 1473.0,304.3 1493.0,304.6 1496.0,304.6 1513.0,305.3 1526.0,305.8 1533.0,306.1 1553.0,306.7 1573.0,307.6 1580.0,307.9 1593.0,308.7 1611.0,310.1 1613.0,310.2 1630.0,312.0 1633.0,312.5 1646.0,314.8 1650.9,315.9" stroke="#09b4d1" stroke-width="2.2"/>
<polyline points="1073.0,284.5 1073.0,288.6 1080.0,293.3 1090.0,296.0 1093.0,296.4 1104.6,297.8 1113.0,298.2 1133.0,298.7 1153.0,299.1 1158.3,299.3 1173.0,299.6 1189.0,299.9 1193.0,300.0 1213.0,300.4 1233.0,300.7 1243.0,300.9 1253.0,301.0 1273.0,301.3 1293.0,301.6 1300.0,301.7 1313.0,301.8 1333.0,302.2 1353.0,302.5 1373.0,302.7 1393.0,303.0 1400.0,303.1 1413.0,303.3 1433.0,303.6 1453.0,303.9 1473.0,304.2 1493.0,304.5 1496.0,304.6 1513.0,305.2 1526.0,305.7 1533.0,305.9 1553.0,306.6 1573.0,307.5 1580.0,307.8 1593.0,308.5 1611.0,309.9 1613.0,310.1 1630.0,311.8 1633.0,312.3 1646.0,314.5 1651.2,315.7" stroke="#01bac5" stroke-width="2.2"/>
<polyline points="1073.0,284.5 1073.0,289.1 1080.0,293.7 1090.0,296.3 1093.0,296.7 1104.6,298.0 1113.0,298.4 1133.0,298.8 1153.0,299.3 1158.3,299.4 1173.0,299.7 1189.0,300.0 1193.0,300.1 1213.0,300.4 1233.0,300.7 1243.0,300.9 1253.0,301.1 1273.0,301.3 1293.0,301.6 1300.0,301.7 1313.0,301.9 1333.0,302.2 1353.0,302.4 1373.0,302.7 1393.0,303.0 1400.0,303.1 1413.0,303.2 1433.0,303.5 1453.0,303.8 1473.0,304.1 1493.0,304.4 1496.0,304.5 1513.0,305.1 1526.0,305.6 1533.0,305.8 1553.0,306.5 1573.0,307.4 1580.0,307.7 1593.0,308.4 1611.0,309.8 1613.0,309.9 1630.0,311.7 1633.0,312.1 1646.0,314.3 1651.6,315.6" stroke="#12beb9" stroke-width="2.2"/>
<polyline points="1073.0,284.5 1073.0,289.6 1080.0,294.1 1090.0,296.6 1093.0,297.0 1104.6,298.2 1113.0,298.6 1133.0,299.0 1153.0,299.4 1158.3,299.5 1173.0,299.8 1189.0,300.1 1193.0,300.2 1213.0,300.5 1233.0,300.8 1243.0,300.9 1253.0,301.1 1273.0,301.3 1293.0,301.6 1300.0,301.7 1313.0,301.9 1333.0,302.2 1353.0,302.4 1373.0,302.7 1393.0,302.9 1400.0,303.0 1413.0,303.2 1433.0,303.5 1453.0,303.8 1473.0,304.1 1493.0,304.4 1496.0,304.4 1513.0,305.0 1526.0,305.5 1533.0,305.7 1553.0,306.4 1573.0,307.2 1580.0,307.5 1593.0,308.3 1611.0,309.6 1613.0,309.8 1630.0,311.5 1633.0,311.9 1646.0,314.1 1652.0,315.4" stroke="#26c2ac" stroke-width="2.2"/>
<polyline points="1073.0,284.5 1073.0,290.0 1080.0,294.5 1090.0,296.9 1093.0,297.3 1104.6,298.4 1113.0,298.7 1133.0,299.1 1153.0,299.5 1158.3,299.6 1173.0,299.9 1189.0,300.2 1193.0,300.2 1213.0,300.5 1233.0,300.8 1243.0,301.0 1253.0,301.1 1273.0,301.4 1293.0,301.6 1300.0,301.7 1313.0,301.9 1333.0,302.2 1353.0,302.4 1373.0,302.7 1393.0,302.9 1400.0,303.0 1413.0,303.2 1433.0,303.4 1453.0,303.7 1473.0,304.0 1493.0,304.3 1496.0,304.4 1513.0,305.0 1526.0,305.4 1533.0,305.7 1553.0,306.3 1573.0,307.1 1580.0,307.4 1593.0,308.1 1611.0,309.5 1613.0,309.7 1630.0,311.3 1633.0,311.8 1646.0,313.8 1652.3,315.2" stroke="#32c69f" stroke-width="2.2"/>
<polyline points="1073.0,284.5 1073.0,290.5 1080.0,294.8 1090.0,297.1 1093.0,297.5 1104.6,298.5 1113.0,298.8 1133.0,299.2 1153.0,299.6 1158.3,299.7 1173.0,300.0 1189.0,300.2 1193.0,300.3 1213.0,300.6 1233.0,300.9 1243.0,301.0 1253.0,301.1 1273.0,301.4 1293.0,301.6 1300.0,301.7 1313.0,301.9 1333.0,302.2 1353.0,302.4 1373.0,302.6 1393.0,302.9 1400.0,303.0 1413.0,303.1 1433.0,303.4 1453.0,303.7 1473.0,304.0 1493.0,304.3 1496.0,304.3 1513.0,304.9 1526.0,305.4 1533.0,305.6 1553.0,306.3 1573.0,307.1 1580.0,307.4 1593.0,308.0 1611.0,309.4 1613.0,309.6 1630.0,311.2 1633.0,311.6 1646.0,313.6 1652.7,315.0" stroke="#3eca8f" stroke-width="2.2"/>
<polyline points="1073.0,284.5 1073.0,291.0 1080.0,295.2 1090.0,297.4 1093.0,297.7 1104.6,298.7 1113.0,298.9 1133.0,299.3 1153.0,299.7 1158.3,299.8 1173.0,300.0 1189.0,300.3 1193.0,300.3 1213.0,300.6 1233.0,300.9 1243.0,301.0 1253.0,301.2 1273.0,301.4 1293.0,301.6 1300.0,301.7 1313.0,301.9 1333.0,302.1 1353.0,302.4 1373.0,302.6 1393.0,302.9 1400.0,302.9 1413.0,303.1 1433.0,303.4 1453.0,303.6 1473.0,303.9 1493.0,304.2 1496.0,304.3 1513.0,304.9 1526.0,305.3 1533.0,305.5 1553.0,306.2 1573.0,307.0 1580.0,307.3 1593.0,307.9 1611.0,309.3 1613.0,309.5 1630.0,311.0 1633.0,311.4 1646.0,313.4 1653.0,314.8 1653.0,314.8" stroke="#53cc7d" stroke-width="2.2"/>
<polyline points="1073.0,284.5 1073.0,291.5 1080.0,295.5 1090.0,297.6 1093.0,297.9 1104.6,298.8 1113.0,299.0 1133.0,299.4 1153.0,299.7 1158.3,299.8 1173.0,300.1 1189.0,300.3 1193.0,300.4 1213.0,300.6 1233.0,300.9 1243.0,301.0 1253.0,301.2 1273.0,301.4 1293.0,301.6 1300.0,301.7 1313.0,301.9 1333.0,302.1 1353.0,302.4 1373.0,302.6 1393.0,302.8 1400.0,302.9 1413.0,303.1 1433.0,303.3 1453.0,303.6 1473.0,303.9 1493.0,304.2 1496.0,304.2 1513.0,304.8 1526.0,305.3 1533.0,305.5 1553.0,306.2 1573.0,306.9 1580.0,307.2 1593.0,307.8 1611.0,309.2 1613.0,309.4 1630.0,310.9 1633.0,311.3 1646.0,313.2 1653.0,314.6 1653.4,314.6" stroke="#6bcd69" stroke-width="2.2"/>
<polyline points="1073.0,284.5 1073.0,291.9 1080.0,295.9 1090.0,297.8 1093.0,298.1 1104.6,298.9 1113.0,299.1 1133.0,299.4 1153.0,299.8 1158.3,299.9 1173.0,300.1 1189.0,300.3 1193.0,300.4 1213.0,300.7 1233.0,300.9 1243.0,301.1 1253.0,301.2 1273.0,301.4 1293.0,301.7 1300.0,301.7 1313.0,301.9 1333.0,302.1 1353.0,302.4 1373.0,302.6 1393.0,302.8 1400.0,302.9 1413.0,303.1 1433.0,303.3 1453.0,303.6 1473.0,303.9 1493.0,304.2 1496.0,304.2 1513.0,304.8 1526.0,305.2 1533.0,305.5 1553.0,306.1 1573.0,306.9 1580.0,307.1 1593.0,307.8 1611.0,309.1 1613.0,309.3 1630.0,310.8 1633.0,311.1 1646.0,313.0 1653.0,314.3 1653.7,314.5" stroke="#85cb55" stroke-width="2.2"/>
<polyline points="1073.0,284.5 1073.0,292.4 1080.0,296.2 1090.0,298.0 1093.0,298.3 1104.6,298.9 1113.0,299.2 1133.0,299.5 1153.0,299.8 1158.3,299.9 1173.0,300.1 1189.0,300.4 1193.0,300.4 1213.0,300.7 1233.0,300.9 1243.0,301.1 1253.0,301.2 1273.0,301.4 1293.0,301.7 1300.0,301.7 1313.0,301.9 1333.0,302.1 1353.0,302.4 1373.0,302.6 1393.0,302.8 1400.0,302.9 1413.0,303.1 1433.0,303.3 1453.0,303.6 1473.0,303.9 1493.0,304.1 1496.0,304.2 1513.0,304.7 1526.0,305.2 1533.0,305.4 1553.0,306.1 1573.0,306.8 1580.0,307.1 1593.0,307.7 1611.0,309.0 1613.0,309.2 1630.0,310.7 1633.0,311.0 1646.0,312.8 1653.0,314.1 1654.1,314.3" stroke="#9fc942" stroke-width="2.2"/>
<polyline points="1073.0,284.5 1073.0,292.9 1080.0,296.5 1090.0,298.1 1093.0,298.4 1104.6,299.0 1113.0,299.2 1133.0,299.5 1153.0,299.8 1158.3,299.9 1173.0,300.2 1189.0,300.4 1193.0,300.4 1213.0,300.7 1233.0,301.0 1243.0,301.1 1253.0,301.2 1273.0,301.4 1293.0,301.7 1300.0,301.7 1313.0,301.9 1333.0,302.1 1353.0,302.3 1373.0,302.6 1393.0,302.8 1400.0,302.9 1413.0,303.0 1433.0,303.3 1453.0,303.6 1473.0,303.8 1493.0,304.1 1496.0,304.2 1513.0,304.7 1526.0,305.2 1533.0,305.4 1553.0,306.1 1573.0,306.8 1580.0,307.0 1593.0,307.6 1611.0,308.9 1613.0,309.1 1630.0,310.5 1633.0,310.9 1646.0,312.6 1653.0,313.8 1654.4,314.1" stroke="#b7c532" stroke-width="2.2"/>
<polyline points="1073.0,284.5 1073.0,293.3 1080.0,296.8 1090.0,298.3 1093.0,298.5 1104.6,299.1 1113.0,299.2 1133.0,299.6 1153.0,299.9 1158.3,300.0 1173.0,300.2 1189.0,300.4 1193.0,300.4 1213.0,300.7 1233.0,301.0 1243.0,301.1 1253.0,301.2 1273.0,301.4 1293.0,301.7 1300.0,301.7 1313.0,301.9 1333.0,302.1 1353.0,302.3 1373.0,302.6 1393.0,302.8 1400.0,302.9 1413.0,303.0 1433.0,303.3 1453.0,303.5 1473.0,303.8 1493.0,304.1 1496.0,304.1 1513.0,304.7 1526.0,305.1 1533.0,305.4 1553.0,306.0 1573.0,306.7 1580.0,307.0 1593.0,307.6 1611.0,308.9 1613.0,309.0 1630.0,310.4 1633.0,310.8 1646.0,312.4 1653.0,313.6 1654.8,313.9" stroke="#cec028" stroke-width="2.2"/>
<polyline points="1073.0,284.5 1073.0,293.8 1080.0,297.1 1090.0,298.4 1093.0,298.6 1104.6,299.1 1113.0,299.3 1133.0,299.6 1153.0,299.9 1158.3,300.0 1173.0,300.2 1189.0,300.4 1193.0,300.5 1213.0,300.7 1233.0,301.0 1243.0,301.1 1253.0,301.2 1273.0,301.5 1293.0,301.7 1300.0,301.8 1313.0,301.9 1333.0,302.1 1353.0,302.3 1373.0,302.6 1393.0,302.8 1400.0,302.9 1413.0,303.0 1433.0,303.3 1453.0,303.5 1473.0,303.8 1493.0,304.1 1496.0,304.1 1513.0,304.7 1526.0,305.1 1533.0,305.4 1553.0,306.0 1573.0,306.7 1580.0,307.0 1593.0,307.5 1611.0,308.8 1613.0,309.0 1630.0,310.3 1633.0,310.6 1646.0,312.2 1653.0,313.3 1655.2,313.8" stroke="#e1bc2b" stroke-width="2.2"/>
<polyline points="1073.0,284.5 1073.0,294.3 1080.0,297.4 1090.0,298.5 1093.0,298.7 1104.6,299.1 1113.0,299.3 1133.0,299.6 1153.0,299.9 1158.3,300.0 1173.0,300.2 1189.0,300.4 1193.0,300.5 1213.0,300.7 1233.0,301.0 1243.0,301.1 1253.0,301.2 1273.0,301.5 1293.0,301.7 1300.0,301.8 1313.0,301.9 1333.0,302.1 1353.0,302.3 1373.0,302.6 1393.0,302.8 1400.0,302.9 1413.0,303.0 1433.0,303.3 1453.0,303.5 1473.0,303.8 1493.0,304.1 1496.0,304.1 1513.0,304.7 1526.0,305.1 1533.0,305.3 1553.0,306.0 1573.0,306.7 1580.0,306.9 1593.0,307.5 1611.0,308.8 1613.0,308.9 1630.0,310.2 1633.0,310.5 1646.0,312.0 1653.0,313.1 1655.5,313.6" stroke="#f0ba36" stroke-width="2.2"/>
<polyline points="1073.0,284.5 1073.0,294.8 1080.0,297.6 1090.0,298.6 1093.0,298.8 1104.6,299.2 1113.0,299.3 1133.0,299.6 1153.0,299.9 1158.3,300.0 1173.0,300.2 1189.0,300.4 1193.0,300.5 1213.0,300.7 1233.0,301.0 1243.0,301.1 1253.0,301.2 1273.0,301.5 1293.0,301.7 1300.0,301.8 1313.0,301.9 1333.0,302.1 1353.0,302.3 1373.0,302.6 1393.0,302.8 1400.0,302.9 1413.0,303.0 1433.0,303.2 1453.0,303.5 1473.0,303.8 1493.0,304.1 1496.0,304.1 1513.0,304.7 1526.0,305.1 1533.0,305.3 1553.0,306.0 1573.0,306.7 1580.0,306.9 1593.0,307.5 1611.0,308.7 1613.0,308.9 1630.0,310.2 1633.0,310.4 1646.0,311.9 1653.0,312.9 1655.9,313.4" stroke="#f9bb3d" stroke-width="2.2"/>
<polyline points="1073.0,284.5 1073.0,295.2 1080.0,297.8 1090.0,298.7 1093.0,298.9 1104.6,299.2 1113.0,299.3 1133.0,299.6 1153.0,299.9 1158.3,300.0 1173.0,300.2 1189.0,300.4 1193.0,300.5 1213.0,300.7 1233.0,301.0 1243.0,301.1 1253.0,301.2 1273.0,301.5 1293.0,301.7 1300.0,301.8 1313.0,301.9 1333.0,302.1 1353.0,302.3 1373.0,302.6 1393.0,302.8 1400.0,302.9 1413.0,303.0 1433.0,303.2 1453.0,303.5 1473.0,303.8 1493.0,304.1 1496.0,304.1 1513.0,304.7 1526.0,305.1 1533.0,305.3 1553.0,306.0 1573.0,306.7 1580.0,306.9 1593.0,307.5 1611.0,308.7 1613.0,308.8 1630.0,310.1 1633.0,310.4 1646.0,311.7 1653.0,312.7 1656.2,313.2" stroke="#fec03b" stroke-width="2.2"/>
<polyline points="1073.0,284.5 1073.0,295.7 1080.0,298.1 1090.0,298.8 1093.0,298.9 1104.6,299.2 1113.0,299.3 1133.0,299.6 1153.0,299.9 1158.3,300.0 1173.0,300.2 1189.0,300.4 1193.0,300.5 1213.0,300.7 1233.0,301.0 1243.0,301.1 1253.0,301.2 1273.0,301.5 1293.0,301.7 1300.0,301.8 1313.0,301.9 1333.0,302.1 1353.0,302.3 1373.0,302.6 1393.0,302.8 1400.0,302.9 1413.0,303.0 1433.0,303.2 1453.0,303.5 1473.0,303.8 1493.0,304.1 1496.0,304.1 1513.0,304.7 1526.0,305.1 1533.0,305.3 1553.0,306.0 1573.0,306.7 1580.0,306.9 1593.0,307.4 1611.0,308.6 1613.0,308.8 1630.0,310.0 1633.0,310.3 1646.0,311.5 1653.0,312.4 1656.6,313.0" stroke="#fec735" stroke-width="2.2"/>
<polyline points="1073.0,284.5 1073.0,296.2 1080.0,298.3 1090.0,298.9 1093.0,299.0 1104.6,299.2 1113.0,299.3 1133.0,299.6 1153.0,299.9 1158.3,300.0 1173.0,300.2 1189.0,300.4 1193.0,300.5 1213.0,300.7 1233.0,301.0 1243.0,301.1 1253.0,301.2 1273.0,301.5 1293.0,301.7 1300.0,301.8 1313.0,301.9 1333.0,302.1 1353.0,302.3 1373.0,302.6 1393.0,302.8 1400.0,302.9 1413.0,303.0 1433.0,303.2 1453.0,303.5 1473.0,303.8 1493.0,304.1 1496.0,304.1 1513.0,304.7 1526.0,305.1 1533.0,305.3 1553.0,306.0 1573.0,306.6 1580.0,306.9 1593.0,307.4 1611.0,308.6 1613.0,308.7 1630.0,310.0 1633.0,310.2 1646.0,311.4 1653.0,312.2 1657.0,312.8" stroke="#fdce31" stroke-width="2.2"/>
<polyline points="1073.0,284.5 1073.0,296.6 1080.0,298.5 1090.0,298.9 1093.0,299.0 1104.6,299.2 1113.0,299.3 1133.0,299.6 1153.0,299.9 1158.3,300.0 1173.0,300.2 1189.0,300.4 1193.0,300.5 1213.0,300.7 1233.0,301.0 1243.0,301.1 1253.0,301.2 1273.0,301.5 1293.0,301.7 1300.0,301.8 1313.0,301.9 1333.0,302.1 1353.0,302.3 1373.0,302.6 1393.0,302.8 1400.0,302.9 1413.0,303.0 1433.0,303.2 1453.0,303.5 1473.0,303.8 1493.0,304.1 1496.0,304.1 1513.0,304.7 1526.0,305.1 1533.0,305.3 1553.0,306.0 1573.0,306.6 1580.0,306.9 1593.0,307.4 1611.0,308.6 1613.0,308.7 1630.0,309.9 1633.0,310.1 1646.0,311.3 1653.0,312.0 1657.4,312.6" stroke="#fad62d" stroke-width="2.2"/>
<polyline points="1073.0,284.5 1073.0,297.1 1080.0,298.6 1090.0,299.0 1093.0,299.0 1104.6,299.2 1113.0,299.3 1133.0,299.6 1153.0,299.9 1158.3,300.0 1173.0,300.2 1189.0,300.4 1193.0,300.5 1213.0,300.7 1233.0,301.0 1243.0,301.1 1253.0,301.2 1273.0,301.5 1293.0,301.7 1300.0,301.8 1313.0,301.9 1333.0,302.1 1353.0,302.3 1373.0,302.6 1393.0,302.8 1400.0,302.9 1413.0,303.0 1433.0,303.2 1453.0,303.5 1473.0,303.8 1493.0,304.1 1496.0,304.1 1513.0,304.7 1526.0,305.1 1533.0,305.3 1553.0,306.0 1573.0,306.6 1580.0,306.9 1593.0,307.4 1611.0,308.6 1613.0,308.7 1630.0,309.9 1633.0,310.1 1646.0,311.1 1653.0,311.8 1657.8,312.4" stroke="#f6de29" stroke-width="2.2"/>
<polyline points="1073.0,284.5 1073.0,297.6 1080.0,298.8 1090.0,299.0 1093.0,299.0 1104.6,299.2 1113.0,299.3 1133.0,299.6 1153.0,299.9 1158.3,300.0 1173.0,300.2 1189.0,300.4 1193.0,300.5 1213.0,300.7 1233.0,301.0 1243.0,301.1 1253.0,301.2 1273.0,301.5 1293.0,301.7 1300.0,301.8 1313.0,301.9 1333.0,302.1 1353.0,302.3 1373.0,302.6 1393.0,302.8 1400.0,302.9 1413.0,303.0 1433.0,303.2 1453.0,303.5 1473.0,303.8 1493.0,304.1 1496.0,304.1 1513.0,304.7 1526.0,305.1 1533.0,305.3 1553.0,306.0 1573.0,306.6 1580.0,306.9 1593.0,307.4 1611.0,308.6 1613.0,308.7 1630.0,309.8 1633.0,310.0 1646.0,311.0 1653.0,311.7 1658.2,312.2" stroke="#f5e526" stroke-width="2.2"/>
<polyline points="1073.0,284.5 1073.0,298.1 1080.0,298.9 1090.0,299.0 1093.0,299.0 1104.6,299.2 1113.0,299.3 1133.0,299.6 1153.0,299.9 1158.3,300.0 1173.0,300.2 1189.0,300.4 1193.0,300.5 1213.0,300.7 1233.0,301.0 1243.0,301.1 1253.0,301.2 1273.0,301.5 1293.0,301.7 1300.0,301.8 1313.0,301.9 1333.0,302.1 1353.0,302.3 1373.0,302.6 1393.0,302.8 1400.0,302.9 1413.0,303.0 1433.0,303.2 1453.0,303.5 1473.0,303.8 1493.0,304.1 1496.0,304.1 1513.0,304.7 1526.0,305.1 1533.0,305.3 1553.0,306.0 1573.0,306.6 1580.0,306.9 1593.0,307.4 1611.0,308.6 1613.0,308.7 1630.0,309.8 1633.0,310.0 1646.0,310.9 1653.0,311.5 1658.6,312.0" stroke="#f5ed22" stroke-width="2.2"/>
<polyline points="1073.0,284.5 1073.0,298.5 1080.0,299.0 1090.0,299.0 1093.0,299.0 1104.6,299.2 1113.0,299.3 1133.0,299.6 1153.0,299.9 1158.3,300.0 1173.0,300.2 1189.0,300.4 1193.0,300.5 1213.0,300.7 1233.0,301.0 1243.0,301.1 1253.0,301.2 1273.0,301.5 1293.0,301.7 1300.0,301.8 1313.0,301.9 1333.0,302.1 1353.0,302.3 1373.0,302.6 1393.0,302.8 1400.0,302.9 1413.0,303.0 1433.0,303.2 1453.0,303.5 1473.0,303.8 1493.0,304.1 1496.0,304.1 1513.0,304.7 1526.0,305.1 1533.0,305.3 1553.0,306.0 1573.0,306.6 1580.0,306.9 1593.0,307.4 1611.0,308.6 1613.0,308.7 1630.0,309.8 1633.0,310.0 1646.0,310.9 1653.0,311.3 1659.0,311.8" stroke="#f7f41c" stroke-width="2.2"/>
<polyline points="1073.0,284.5 1073.0,299.0 1080.0,299.0 1090.0,299.0 1093.0,299.0 1104.6,299.2 1113.0,299.3 1133.0,299.6 1153.0,299.9 1158.3,300.0 1173.0,300.2 1189.0,300.4 1193.0,300.5 1213.0,300.7 1233.0,301.0 1243.0,301.1 1253.0,301.2 1273.0,301.5 1293.0,301.7 1300.0,301.8 1313.0,301.9 1333.0,302.1 1353.0,302.3 1373.0,302.6 1393.0,302.8 1400.0,302.9 1413.0,303.0 1433.0,303.2 1453.0,303.5 1473.0,303.8 1493.0,304.1 1496.0,304.1 1513.0,304.7 1526.0,305.1 1533.0,305.3 1553.0,306.0 1573.0,306.6 1580.0,306.9 1593.0,307.4 1611.0,308.6 1613.0,308.7 1630.0,309.8 1633.0,310.0 1646.0,310.8 1653.0,311.2 1659.5,311.6" stroke="#f9fb15" stroke-width="2.2"/>
<polyline points="1073.0,284.5 1073.0,299.0 1090.0,299.0 1170.0,300.2 1258.0,301.3 1350.0,302.3 1430.0,303.2 1496.0,304.1 1590.0,307.2 1649.0,311.0 1661.0,311.7 1652.3,315.7 1636.8,323.7 1621.8,331.7 1607.3,339.7 1593.3,347.7 1579.7,355.7 1566.6,363.7 1553.8,371.7 1541.5,379.7 1529.5,387.7 1517.9,395.7 1506.6,403.7 1495.6,411.7 1485.0,419.7 1474.6,427.7 1464.5,435.7 1454.7,443.7 1445.2,451.7 1435.9,459.7 1426.8,467.7 1418.0,475.7 1409.4,483.7 1401.0,491.7 1392.8,499.7 1384.8,507.7 1377.1,515.7 1369.5,523.7 1362.1,531.7 1354.8,539.7 1347.8,547.7 1340.9,555.7 1334.2,563.7 1327.6,571.7 1321.2,579.7 1314.9,587.7 1308.8,595.7 1302.8,603.7 1296.9,611.7 1291.2,619.7 1285.6,627.7 1280.2,635.7 1274.8,643.7 1269.6,651.7 1264.5,659.7 1259.5,667.7 1254.6,675.7 1249.8,683.7 1245.2,691.7 1240.6,699.7 1236.2,707.7 1231.8,715.7 1227.5,723.7 1223.3,731.7 1219.3,739.7 1215.3,747.7 1211.4,755.7 1207.5,763.7 1203.8,771.7 1200.1,779.7 1196.6,787.7 1193.1,795.7 1189.6,803.7 1186.3,811.7 1183.7,818.0" stroke="#f9fb15" stroke-width="3.8"/>
<polyline points="1073.0,284.0 1080.0,288.5 1090.0,291.0 1104.6,292.7 1158.3,296.0 1189.0,298.0 1243.0,300.0 1300.0,301.5 1400.0,304.2 1496.0,306.9 1526.0,308.9 1580.0,311.0 1611.0,312.6 1630.0,314.6 1646.0,318.0" stroke="#000" stroke-width="11.8" stroke-dasharray="52.5 31.9" stroke-dashoffset="51.0"/>
<polygon points="1074,280.1 1076.9,280.1 1076.9,282.4 1075.9,283.6 1073.6,289.8 1071.1,290.6 1071.1,288.1 1074,283.2" fill="#000" stroke="none"/>
<polyline id="red2" points="1181.3,824.0 1183.3,819.0 1185.3,814.0 1187.4,809.0 1189.5,804.0 1191.6,799.0 1193.8,794.0 1196.0,789.0 1198.2,784.0 1200.5,779.0 1202.7,774.0 1205.0,769.0 1207.4,764.0 1209.8,759.0 1212.2,754.0 1214.6,749.0 1217.1,744.0 1219.6,739.0 1222.2,734.0 1224.7,729.0 1227.4,724.0 1230.0,719.0 1232.7,714.0 1235.4,709.0 1238.2,704.0 1241.0,699.0 1243.9,694.0 1246.7,689.0 1249.7,684.0 1252.6,679.0 1255.6,674.0 1258.7,669.0 1261.8,664.0 1264.9,659.0 1268.1,654.0 1271.3,649.0 1274.6,644.0 1277.9,639.0 1281.3,634.0 1284.7,629.0 1288.2,624.0 1291.7,619.0 1295.3,614.0 1298.9,609.0 1302.6,604.0 1306.3,599.0 1310.1,594.0 1313.9,589.0 1317.8,584.0 1321.7,579.0 1325.7,574.0 1329.8,569.0 1333.9,564.0 1338.1,559.0 1342.3,554.0 1346.6,549.0 1351.0,544.0 1355.5,539.0 1360.0,534.0 1364.5,529.0 1369.2,524.0 1373.9,519.0 1378.7,514.0 1383.6,509.0 1388.5,504.0 1393.5,499.0 1398.6,494.0 1403.8,489.0 1409.1,484.0 1414.4,479.0 1419.8,474.0 1425.4,469.0 1431.0,464.0 1436.7,459.0 1442.5,454.0 1448.4,449.0 1454.3,444.0 1460.4,439.0 1466.6,434.0 1472.9,429.0 1479.4,424.0 1485.9,419.0 1492.5,414.0 1499.3,409.0 1506.2,404.0 1513.2,399.0 1520.3,394.0 1527.6,389.0 1535.0,384.0 1542.5,379.0 1550.2,374.0 1558.1,369.0 1566.1,364.0 1574.2,359.0 1582.5,354.0 1591.0,349.0 1599.7,344.0 1608.5,339.0 1617.6,334.0 1626.8,329.0 1636.2,324.0 1645.8,319.0 1655.7,314.0 1665.7,309.0 1673.3,305.3" stroke="#ff0000" stroke-width="12" stroke-dasharray="52.5 31.9" stroke-dashoffset="79"/>
<polyline points="1181.3,824.0 1182.9,820.0 1185.3,814.0" stroke="#ff0000" stroke-width="12"/>
</g>
</g>
<g id="panel3">
<path d="M2088.5 28.0V820.0M1774.0 131.8H2402.0M1774.0 304.0H2402.0M1774.0 476.1H2402.0M1774.0 648.3H2402.0" stroke="#dedede" stroke-width="3.8" fill="none"/>
<rect x="1774.0" y="28.0" width="628.0" height="792.0" fill="none" stroke="#262626" stroke-width="4.2"/>
<path d="M1774.0 820.0v-10M1774.0 28.0v10M2088.5 820.0v-10M2088.5 28.0v10M2402.0 820.0v-10M2402.0 28.0v10M1774.0 131.8h10M2402.0 131.8h-10M1774.0 304.0h10M2402.0 304.0h-10M1774.0 476.1h10M2402.0 476.1h-10M1774.0 648.3h10M2402.0 648.3h-10" stroke="#262626" stroke-width="4" fill="none"/>
<rect x="1761.9" y="297" width="1.3" height="5" fill="#262626"/><rect x="1761.9" y="640.8" width="1.3" height="5.3" fill="#262626"/>
<g clip-path="url(#c3)" fill="none" stroke-linejoin="round">
<polyline points="1774.0,274.0 1774.0,274.0 1777.0,276.1 1782.0,279.2 1792.5,282.1 1794.0,282.4 1814.0,285.9 1819.0,286.8 1834.0,288.7 1845.7,290.1 1854.0,291.2 1874.0,293.6 1876.0,293.9 1894.0,294.8 1914.0,295.7 1929.7,296.4 1934.0,296.7 1954.0,298.1 1960.0,298.5 1974.0,299.1 1994.0,299.9 2014.0,300.7 2034.0,301.4 2050.0,302.0 2054.0,302.2 2074.0,303.0 2094.0,304.5 2114.0,305.2 2130.0,305.8 2134.0,306.0 2154.0,307.0 2174.0,308.0 2183.0,308.5 2194.0,309.2 2214.0,310.5 2234.0,311.8 2240.0,312.1 2254.0,313.4 2267.0,314.5 2274.0,315.7 2294.0,319.0 2297.0,319.5 2314.0,324.0 2321.0,325.8" stroke="#475cfa" stroke-width="2.2"/>
<polyline points="1774.0,274.0 1774.0,274.0 1777.0,276.8 1782.0,279.9 1792.5,283.1 1794.0,283.4 1814.0,287.1 1819.0,287.9 1834.0,289.6 1845.7,291.0 1854.0,291.9 1874.0,294.2 1876.0,294.4 1894.0,295.2 1914.0,296.1 1929.7,296.9 1934.0,297.1 1954.0,298.4 1960.0,298.8 1974.0,299.3 1994.0,300.1 2014.0,300.8 2034.0,301.6 2050.0,302.1 2054.0,302.3 2074.0,303.1 2094.0,304.5 2114.0,305.1 2130.0,305.7 2134.0,305.9 2154.0,306.8 2174.0,307.8 2183.0,308.2 2194.0,308.9 2214.0,310.1 2234.0,311.3 2240.0,311.7 2254.0,312.9 2267.0,314.0 2274.0,315.1 2294.0,318.4 2297.0,318.9 2314.0,323.3 2321.6,325.4" stroke="#465ffb" stroke-width="2.2"/>
<polyline points="1774.0,274.0 1774.0,274.0 1777.0,277.4 1782.0,280.7 1792.5,284.1 1794.0,284.4 1814.0,288.2 1819.0,288.9 1834.0,290.5 1845.7,291.7 1854.0,292.6 1874.0,294.6 1876.0,294.9 1894.0,295.7 1914.0,296.5 1929.7,297.2 1934.0,297.5 1954.0,298.7 1960.0,299.1 1974.0,299.6 1994.0,300.3 2014.0,301.0 2034.0,301.7 2050.0,302.2 2054.0,302.4 2074.0,303.1 2094.0,304.4 2114.0,305.1 2130.0,305.6 2134.0,305.8 2154.0,306.7 2174.0,307.6 2183.0,308.0 2194.0,308.6 2214.0,309.7 2234.0,310.9 2240.0,311.2 2254.0,312.4 2267.0,313.5 2274.0,314.6 2294.0,317.8 2297.0,318.3 2314.0,322.7 2322.0,324.9 2322.2,324.9" stroke="#4562fc" stroke-width="2.2"/>
<polyline points="1774.0,274.0 1774.0,274.0 1777.0,278.1 1782.0,281.5 1792.5,285.0 1794.0,285.3 1814.0,289.1 1819.0,289.8 1834.0,291.2 1845.7,292.4 1854.0,293.2 1874.0,295.1 1876.0,295.3 1894.0,296.1 1914.0,296.9 1929.7,297.6 1934.0,297.8 1954.0,299.0 1960.0,299.3 1974.0,299.8 1994.0,300.4 2014.0,301.1 2034.0,301.8 2050.0,302.3 2054.0,302.5 2074.0,303.2 2094.0,304.4 2114.0,305.0 2130.0,305.5 2134.0,305.7 2154.0,306.5 2174.0,307.4 2183.0,307.8 2194.0,308.3 2214.0,309.4 2234.0,310.5 2240.0,310.8 2254.0,312.0 2267.0,313.1 2274.0,314.1 2294.0,317.3 2297.0,317.8 2314.0,322.1 2322.0,324.3 2322.7,324.5" stroke="#4465fd" stroke-width="2.2"/>
<polyline points="1774.0,274.0 1774.0,274.0 1777.0,278.8 1782.0,282.2 1792.5,285.8 1794.0,286.2 1814.0,290.0 1819.0,290.6 1834.0,292.0 1845.7,293.0 1854.0,293.7 1874.0,295.5 1876.0,295.7 1894.0,296.4 1914.0,297.2 1929.7,297.9 1934.0,298.1 1954.0,299.2 1960.0,299.5 1974.0,300.0 1994.0,300.6 2014.0,301.3 2034.0,301.9 2050.0,302.4 2054.0,302.5 2074.0,303.2 2094.0,304.3 2114.0,304.9 2130.0,305.4 2134.0,305.6 2154.0,306.4 2174.0,307.2 2183.0,307.6 2194.0,308.1 2214.0,309.0 2234.0,310.1 2240.0,310.5 2254.0,311.6 2267.0,312.7 2274.0,313.7 2294.0,316.7 2297.0,317.2 2314.0,321.5 2322.0,323.7 2323.3,324.1" stroke="#4368fe" stroke-width="2.2"/>
<polyline points="1774.0,274.0 1774.0,274.5 1777.0,279.5 1782.0,282.9 1792.5,286.6 1794.0,287.0 1814.0,290.8 1819.0,291.4 1834.0,292.6 1845.7,293.6 1854.0,294.2 1874.0,295.8 1876.0,296.0 1894.0,296.7 1914.0,297.6 1929.7,298.2 1934.0,298.4 1954.0,299.4 1960.0,299.7 1974.0,300.1 1994.0,300.8 2014.0,301.4 2034.0,302.0 2050.0,302.5 2054.0,302.6 2074.0,303.2 2094.0,304.3 2114.0,304.9 2130.0,305.3 2134.0,305.5 2154.0,306.3 2174.0,307.0 2183.0,307.4 2194.0,307.9 2214.0,308.8 2234.0,309.8 2240.0,310.1 2254.0,311.2 2267.0,312.3 2274.0,313.2 2294.0,316.2 2297.0,316.7 2314.0,320.9 2322.0,323.1 2323.8,323.6" stroke="#416bfe" stroke-width="2.2"/>
<polyline points="1774.0,274.0 1774.0,275.2 1777.0,280.1 1782.0,283.6 1792.5,287.4 1794.0,287.8 1814.0,291.6 1819.0,292.1 1834.0,293.2 1845.7,294.1 1854.0,294.7 1874.0,296.2 1876.0,296.3 1894.0,297.0 1914.0,297.8 1929.7,298.4 1934.0,298.6 1954.0,299.6 1960.0,299.9 1974.0,300.3 1994.0,300.9 2014.0,301.5 2034.0,302.1 2050.0,302.5 2054.0,302.7 2074.0,303.3 2094.0,304.2 2114.0,304.8 2130.0,305.3 2134.0,305.4 2154.0,306.1 2174.0,306.9 2183.0,307.2 2194.0,307.7 2214.0,308.5 2234.0,309.5 2240.0,309.8 2254.0,310.8 2267.0,311.9 2274.0,312.8 2294.0,315.7 2297.0,316.2 2314.0,320.4 2322.0,322.5 2324.4,323.2" stroke="#3f6eff" stroke-width="2.2"/>
<polyline points="1774.0,274.0 1774.0,275.9 1777.0,280.8 1782.0,284.3 1792.5,288.1 1794.0,288.5 1814.0,292.2 1819.0,292.7 1834.0,293.7 1845.7,294.5 1854.0,295.1 1874.0,296.5 1876.0,296.6 1894.0,297.3 1914.0,298.1 1929.7,298.7 1934.0,298.9 1954.0,299.8 1960.0,300.0 1974.0,300.4 1994.0,301.0 2014.0,301.6 2034.0,302.1 2050.0,302.6 2054.0,302.7 2074.0,303.3 2094.0,304.2 2114.0,304.8 2130.0,305.2 2134.0,305.4 2154.0,306.0 2174.0,306.7 2183.0,307.0 2194.0,307.5 2214.0,308.3 2234.0,309.2 2240.0,309.5 2254.0,310.5 2267.0,311.5 2274.0,312.4 2294.0,315.2 2297.0,315.7 2314.0,319.8 2322.0,322.0 2324.9,322.8" stroke="#3c71ff" stroke-width="2.2"/>
<polyline points="1774.0,274.0 1774.0,276.6 1777.0,281.5 1782.0,285.0 1792.5,288.8 1794.0,289.2 1814.0,292.8 1819.0,293.2 1834.0,294.2 1845.7,294.9 1854.0,295.5 1874.0,296.7 1876.0,296.9 1894.0,297.5 1914.0,298.3 1929.7,298.9 1934.0,299.1 1954.0,299.9 1960.0,300.1 1974.0,300.5 1994.0,301.1 2014.0,301.7 2034.0,302.2 2050.0,302.7 2054.0,302.8 2074.0,303.4 2094.0,304.2 2114.0,304.7 2130.0,305.2 2134.0,305.3 2154.0,306.0 2174.0,306.6 2183.0,306.9 2194.0,307.3 2214.0,308.1 2234.0,309.0 2240.0,309.3 2254.0,310.2 2267.0,311.2 2274.0,312.0 2294.0,314.8 2297.0,315.2 2314.0,319.2 2322.0,321.4 2325.5,322.4" stroke="#3975fe" stroke-width="2.2"/>
<polyline points="1774.0,274.0 1774.0,277.3 1777.0,282.1 1782.0,285.6 1792.5,289.5 1794.0,289.9 1814.0,293.4 1819.0,293.7 1834.0,294.6 1845.7,295.3 1854.0,295.8 1874.0,297.0 1876.0,297.1 1894.0,297.8 1914.0,298.5 1929.7,299.1 1934.0,299.3 1954.0,300.1 1960.0,300.3 1974.0,300.7 1994.0,301.2 2014.0,301.7 2034.0,302.3 2050.0,302.7 2054.0,302.8 2074.0,303.4 2094.0,304.2 2114.0,304.7 2130.0,305.1 2134.0,305.2 2154.0,305.9 2174.0,306.5 2183.0,306.8 2194.0,307.2 2214.0,307.9 2234.0,308.7 2240.0,309.0 2254.0,309.9 2267.0,310.9 2274.0,311.7 2294.0,314.3 2297.0,314.8 2314.0,318.7 2322.0,320.8 2326.0,322.0" stroke="#3678fe" stroke-width="2.2"/>
<polyline points="1774.0,274.0 1774.0,278.0 1777.0,282.8 1782.0,286.3 1792.5,290.1 1794.0,290.5 1814.0,293.8 1819.0,294.2 1834.0,295.0 1845.7,295.6 1854.0,296.1 1874.0,297.2 1876.0,297.3 1894.0,298.0 1914.0,298.7 1929.7,299.2 1934.0,299.4 1954.0,300.2 1960.0,300.4 1974.0,300.8 1994.0,301.3 2014.0,301.8 2034.0,302.3 2050.0,302.7 2054.0,302.9 2074.0,303.4 2094.0,304.1 2114.0,304.7 2130.0,305.1 2134.0,305.2 2154.0,305.8 2174.0,306.4 2183.0,306.7 2194.0,307.0 2214.0,307.7 2234.0,308.5 2240.0,308.8 2254.0,309.7 2267.0,310.6 2274.0,311.3 2294.0,313.9 2297.0,314.3 2314.0,318.1 2322.0,320.3 2326.5,321.6" stroke="#337bfc" stroke-width="2.2"/>
<polyline points="1774.0,274.0 1774.0,278.7 1777.0,283.4 1782.0,286.9 1792.5,290.7 1794.0,291.1 1814.0,294.3 1819.0,294.6 1834.0,295.3 1845.7,295.9 1854.0,296.4 1874.0,297.4 1876.0,297.5 1894.0,298.1 1914.0,298.8 1929.7,299.4 1934.0,299.6 1954.0,300.3 1960.0,300.5 1974.0,300.8 1994.0,301.4 2014.0,301.9 2034.0,302.4 2050.0,302.8 2054.0,302.9 2074.0,303.4 2094.0,304.1 2114.0,304.6 2130.0,305.0 2134.0,305.2 2154.0,305.7 2174.0,306.3 2183.0,306.6 2194.0,306.9 2214.0,307.6 2234.0,308.4 2240.0,308.6 2254.0,309.4 2267.0,310.3 2274.0,311.0 2294.0,313.5 2297.0,313.9 2314.0,317.6 2322.0,319.7 2327.1,321.2" stroke="#317efb" stroke-width="2.2"/>
<polyline points="1774.0,274.0 1774.0,279.4 1777.0,284.0 1782.0,287.5 1792.5,291.2 1794.0,291.6 1814.0,294.6 1819.0,294.9 1834.0,295.6 1845.7,296.2 1854.0,296.6 1874.0,297.5 1876.0,297.6 1894.0,298.3 1914.0,299.0 1929.7,299.5 1934.0,299.7 1954.0,300.4 1960.0,300.6 1974.0,300.9 1994.0,301.4 2014.0,301.9 2034.0,302.4 2050.0,302.8 2054.0,302.9 2074.0,303.4 2094.0,304.1 2114.0,304.6 2130.0,305.0 2134.0,305.1 2154.0,305.7 2174.0,306.2 2183.0,306.5 2194.0,306.8 2214.0,307.5 2234.0,308.2 2240.0,308.5 2254.0,309.2 2267.0,310.0 2274.0,310.7 2294.0,313.1 2297.0,313.5 2314.0,317.1 2322.0,319.2 2327.6,320.8" stroke="#2f81fa" stroke-width="2.2"/>
<polyline points="1774.0,274.0 1774.0,280.1 1777.0,284.7 1782.0,288.1 1792.5,291.7 1794.0,292.1 1814.0,294.9 1819.0,295.2 1834.0,295.9 1845.7,296.4 1854.0,296.8 1874.0,297.7 1876.0,297.8 1894.0,298.4 1914.0,299.1 1929.7,299.6 1934.0,299.8 1954.0,300.5 1960.0,300.6 1974.0,301.0 1994.0,301.5 2014.0,302.0 2034.0,302.5 2050.0,302.8 2054.0,303.0 2074.0,303.5 2094.0,304.1 2114.0,304.6 2130.0,305.0 2134.0,305.1 2154.0,305.6 2174.0,306.2 2183.0,306.4 2194.0,306.7 2214.0,307.3 2234.0,308.1 2240.0,308.3 2254.0,309.0 2267.0,309.8 2274.0,310.4 2294.0,312.7 2297.0,313.1 2314.0,316.6 2322.0,318.7 2328.1,320.4" stroke="#2e84f8" stroke-width="2.2"/>
<polyline points="1774.0,274.0 1774.0,280.8 1777.0,285.3 1782.0,288.6 1792.5,292.2 1794.0,292.5 1814.0,295.2 1819.0,295.5 1834.0,296.1 1845.7,296.6 1854.0,297.0 1874.0,297.8 1876.0,297.9 1894.0,298.5 1914.0,299.2 1929.7,299.7 1934.0,299.9 1954.0,300.5 1960.0,300.7 1974.0,301.0 1994.0,301.5 2014.0,302.0 2034.0,302.5 2050.0,302.9 2054.0,303.0 2074.0,303.5 2094.0,304.1 2114.0,304.6 2130.0,305.0 2134.0,305.1 2154.0,305.6 2174.0,306.1 2183.0,306.4 2194.0,306.7 2214.0,307.2 2234.0,307.9 2240.0,308.2 2254.0,308.9 2267.0,309.6 2274.0,310.2 2294.0,312.3 2297.0,312.7 2314.0,316.1 2322.0,318.1 2328.5,319.9" stroke="#2e87f7" stroke-width="2.2"/>
<polyline points="1774.0,274.0 1774.0,281.5 1777.0,285.9 1782.0,289.2 1792.5,292.7 1794.0,293.0 1814.0,295.5 1819.0,295.7 1834.0,296.3 1845.7,296.8 1854.0,297.1 1874.0,297.9 1876.0,298.0 1894.0,298.6 1914.0,299.3 1929.7,299.8 1934.0,300.0 1954.0,300.6 1960.0,300.8 1974.0,301.1 1994.0,301.6 2014.0,302.0 2034.0,302.5 2050.0,302.9 2054.0,303.0 2074.0,303.5 2094.0,304.1 2114.0,304.5 2130.0,304.9 2134.0,305.0 2154.0,305.6 2174.0,306.1 2183.0,306.3 2194.0,306.6 2214.0,307.2 2234.0,307.8 2240.0,308.0 2254.0,308.7 2267.0,309.4 2274.0,309.9 2294.0,312.0 2297.0,312.4 2314.0,315.6 2322.0,317.6 2328.8,319.4" stroke="#2d8af5" stroke-width="2.2"/>
<polyline points="1774.0,274.0 1774.0,282.2 1777.0,286.5 1782.0,289.7 1792.5,293.1 1794.0,293.4 1814.0,295.7 1819.0,295.9 1834.0,296.5 1845.7,296.9 1854.0,297.2 1874.0,298.0 1876.0,298.1 1894.0,298.7 1914.0,299.4 1929.7,299.9 1934.0,300.0 1954.0,300.7 1960.0,300.8 1974.0,301.1 1994.0,301.6 2014.0,302.1 2034.0,302.5 2050.0,302.9 2054.0,303.0 2074.0,303.5 2094.0,304.0 2114.0,304.5 2130.0,304.9 2134.0,305.0 2154.0,305.5 2174.0,306.0 2183.0,306.3 2194.0,306.5 2214.0,307.1 2234.0,307.7 2240.0,307.9 2254.0,308.5 2267.0,309.2 2274.0,309.7 2294.0,311.7 2297.0,312.0 2314.0,315.1 2322.0,317.1 2329.2,319.0" stroke="#2c8ef2" stroke-width="2.2"/>
<polyline points="1774.0,274.0 1774.0,282.9 1777.0,287.1 1782.0,290.2 1792.5,293.4 1794.0,293.7 1814.0,295.9 1819.0,296.1 1834.0,296.6 1845.7,297.1 1854.0,297.4 1874.0,298.1 1876.0,298.2 1894.0,298.8 1914.0,299.4 1929.7,299.9 1934.0,300.1 1954.0,300.7 1960.0,300.9 1974.0,301.2 1994.0,301.6 2014.0,302.1 2034.0,302.6 2050.0,302.9 2054.0,303.0 2074.0,303.5 2094.0,304.0 2114.0,304.5 2130.0,304.9 2134.0,305.0 2154.0,305.5 2174.0,306.0 2183.0,306.2 2194.0,306.5 2214.0,307.0 2234.0,307.6 2240.0,307.8 2254.0,308.4 2267.0,309.0 2274.0,309.5 2294.0,311.3 2297.0,311.7 2314.0,314.7 2322.0,316.6 2329.6,318.5" stroke="#2896ec" stroke-width="2.2"/>
<polyline points="1774.0,274.0 1774.0,283.6 1777.0,287.7 1782.0,290.7 1792.5,293.8 1794.0,294.1 1814.0,296.0 1819.0,296.2 1834.0,296.7 1845.7,297.2 1854.0,297.4 1874.0,298.2 1876.0,298.3 1894.0,298.8 1914.0,299.5 1929.7,300.0 1934.0,300.1 1954.0,300.7 1960.0,300.9 1974.0,301.2 1994.0,301.7 2014.0,302.1 2034.0,302.6 2050.0,302.9 2054.0,303.0 2074.0,303.5 2094.0,304.0 2114.0,304.5 2130.0,304.9 2134.0,305.0 2154.0,305.5 2174.0,306.0 2183.0,306.2 2194.0,306.5 2214.0,307.0 2234.0,307.6 2240.0,307.8 2254.0,308.3 2267.0,308.9 2274.0,309.3 2294.0,311.0 2297.0,311.4 2314.0,314.2 2322.0,316.1 2330.0,318.1" stroke="#249de6" stroke-width="2.2"/>
<polyline points="1774.0,274.0 1774.0,284.3 1777.0,288.2 1782.0,291.2 1792.5,294.1 1794.0,294.3 1814.0,296.2 1819.0,296.3 1834.0,296.8 1845.7,297.2 1854.0,297.5 1874.0,298.2 1876.0,298.3 1894.0,298.9 1914.0,299.5 1929.7,300.0 1934.0,300.2 1954.0,300.8 1960.0,300.9 1974.0,301.2 1994.0,301.7 2014.0,302.1 2034.0,302.6 2050.0,303.0 2054.0,303.1 2074.0,303.5 2094.0,304.0 2114.0,304.5 2130.0,304.9 2134.0,305.0 2154.0,305.4 2174.0,305.9 2183.0,306.1 2194.0,306.4 2214.0,306.9 2234.0,307.5 2240.0,307.7 2254.0,308.2 2267.0,308.8 2274.0,309.2 2294.0,310.8 2297.0,311.1 2314.0,313.8 2322.0,315.6 2330.5,317.7" stroke="#20a5e3" stroke-width="2.2"/>
<polyline points="1774.0,274.0 1774.0,285.0 1777.0,288.8 1782.0,291.7 1792.5,294.4 1794.0,294.6 1814.0,296.3 1819.0,296.4 1834.0,296.9 1845.7,297.3 1854.0,297.6 1874.0,298.3 1876.0,298.4 1894.0,298.9 1914.0,299.6 1929.7,300.1 1934.0,300.2 1954.0,300.8 1960.0,300.9 1974.0,301.3 1994.0,301.7 2014.0,302.2 2034.0,302.6 2050.0,303.0 2054.0,303.1 2074.0,303.5 2094.0,304.0 2114.0,304.5 2130.0,304.9 2134.0,305.0 2154.0,305.4 2174.0,305.9 2183.0,306.1 2194.0,306.4 2214.0,306.9 2234.0,307.4 2240.0,307.6 2254.0,308.1 2267.0,308.6 2274.0,309.0 2294.0,310.5 2297.0,310.8 2314.0,313.4 2322.0,315.1 2330.5,317.1" stroke="#1aabdd" stroke-width="2.2"/>
<polyline points="1774.0,274.0 1774.0,285.7 1777.0,289.4 1782.0,292.1 1792.5,294.6 1794.0,294.9 1814.0,296.3 1819.0,296.5 1834.0,297.0 1845.7,297.4 1854.0,297.6 1874.0,298.3 1876.0,298.4 1894.0,299.0 1914.0,299.6 1929.7,300.1 1934.0,300.3 1954.0,300.8 1960.0,301.0 1974.0,301.3 1994.0,301.7 2014.0,302.2 2034.0,302.6 2050.0,303.0 2054.0,303.1 2074.0,303.5 2094.0,304.0 2114.0,304.5 2130.0,304.9 2134.0,304.9 2154.0,305.4 2174.0,305.9 2183.0,306.1 2194.0,306.4 2214.0,306.9 2234.0,307.4 2240.0,307.6 2254.0,308.0 2267.0,308.5 2274.0,308.9 2294.0,310.3 2297.0,310.5 2314.0,312.9 2322.0,314.6 2330.5,316.6" stroke="#10b2d5" stroke-width="2.2"/>
<polyline points="1774.0,274.0 1774.0,286.4 1777.0,289.9 1782.0,292.5 1792.5,294.9 1794.0,295.1 1814.0,296.4 1819.0,296.6 1834.0,297.1 1845.7,297.4 1854.0,297.7 1874.0,298.4 1876.0,298.4 1894.0,299.0 1914.0,299.6 1929.7,300.1 1934.0,300.3 1954.0,300.8 1960.0,301.0 1974.0,301.3 1994.0,301.7 2014.0,302.2 2034.0,302.6 2050.0,303.0 2054.0,303.1 2074.0,303.5 2094.0,304.0 2114.0,304.5 2130.0,304.8 2134.0,304.9 2154.0,305.4 2174.0,305.9 2183.0,306.1 2194.0,306.3 2214.0,306.8 2234.0,307.4 2240.0,307.5 2254.0,308.0 2267.0,308.4 2274.0,308.8 2294.0,310.0 2297.0,310.3 2314.0,312.5 2322.0,314.1 2330.5,316.0" stroke="#03b7cc" stroke-width="2.2"/>
<polyline points="1774.0,274.0 1774.0,287.1 1777.0,290.5 1782.0,292.9 1792.5,295.1 1794.0,295.3 1814.0,296.5 1819.0,296.6 1834.0,297.1 1845.7,297.5 1854.0,297.7 1874.0,298.4 1876.0,298.4 1894.0,299.0 1914.0,299.7 1929.7,300.2 1934.0,300.3 1954.0,300.9 1960.0,301.0 1974.0,301.3 1994.0,301.7 2014.0,302.2 2034.0,302.6 2050.0,303.0 2054.0,303.1 2074.0,303.5 2094.0,304.0 2114.0,304.5 2130.0,304.8 2134.0,304.9 2154.0,305.4 2174.0,305.9 2183.0,306.1 2194.0,306.3 2214.0,306.8 2234.0,307.3 2240.0,307.5 2254.0,307.9 2267.0,308.4 2274.0,308.7 2294.0,309.8 2297.0,310.1 2314.0,312.2 2322.0,313.6 2330.5,315.5" stroke="#04bbc2" stroke-width="2.2"/>
<polyline points="1774.0,274.0 1774.0,287.8 1777.0,291.0 1782.0,293.3 1792.5,295.3 1794.0,295.4 1814.0,296.5 1819.0,296.7 1834.0,297.1 1845.7,297.5 1854.0,297.8 1874.0,298.4 1876.0,298.5 1894.0,299.0 1914.0,299.7 1929.7,300.2 1934.0,300.3 1954.0,300.9 1960.0,301.0 1974.0,301.3 1994.0,301.8 2014.0,302.2 2034.0,302.6 2050.0,303.0 2054.0,303.1 2074.0,303.5 2094.0,304.0 2114.0,304.5 2130.0,304.8 2134.0,304.9 2154.0,305.4 2174.0,305.9 2183.0,306.1 2194.0,306.3 2214.0,306.8 2234.0,307.3 2240.0,307.5 2254.0,307.9 2267.0,308.3 2274.0,308.6 2294.0,309.6 2297.0,309.9 2314.0,311.8 2322.0,313.2 2330.5,315.0" stroke="#19bfb5" stroke-width="2.2"/>
<polyline points="1774.0,274.0 1774.0,288.5 1777.0,291.5 1782.0,293.7 1792.5,295.4 1794.0,295.6 1814.0,296.5 1819.0,296.7 1834.0,297.2 1845.7,297.5 1854.0,297.8 1874.0,298.4 1876.0,298.5 1894.0,299.1 1914.0,299.7 1929.7,300.2 1934.0,300.3 1954.0,300.9 1960.0,301.0 1974.0,301.3 1994.0,301.8 2014.0,302.2 2034.0,302.6 2050.0,303.0 2054.0,303.1 2074.0,303.5 2094.0,304.0 2114.0,304.5 2130.0,304.8 2134.0,304.9 2154.0,305.4 2174.0,305.8 2183.0,306.1 2194.0,306.3 2214.0,306.8 2234.0,307.3 2240.0,307.4 2254.0,307.8 2267.0,308.2 2274.0,308.5 2294.0,309.5 2297.0,309.7 2314.0,311.4 2322.0,312.7 2330.5,314.4" stroke="#30c5a1" stroke-width="2.2"/>
<polyline points="1774.0,274.0 1774.0,289.2 1777.0,292.0 1782.0,294.0 1792.5,295.6 1794.0,295.7 1814.0,296.6 1819.0,296.7 1834.0,297.2 1845.7,297.5 1854.0,297.8 1874.0,298.4 1876.0,298.5 1894.0,299.1 1914.0,299.7 1929.7,300.2 1934.0,300.3 1954.0,300.9 1960.0,301.0 1974.0,301.3 1994.0,301.8 2014.0,302.2 2034.0,302.6 2050.0,303.0 2054.0,303.1 2074.0,303.5 2094.0,304.0 2114.0,304.5 2130.0,304.8 2134.0,304.9 2154.0,305.4 2174.0,305.8 2183.0,306.1 2194.0,306.3 2214.0,306.8 2234.0,307.3 2240.0,307.4 2254.0,307.8 2267.0,308.2 2274.0,308.4 2294.0,309.3 2297.0,309.5 2314.0,311.1 2322.0,312.3 2330.5,313.9" stroke="#44cb8a" stroke-width="2.2"/>
<polyline points="1774.0,274.0 1774.0,289.9 1777.0,292.5 1782.0,294.3 1792.5,295.7 1794.0,295.8 1814.0,296.6 1819.0,296.7 1834.0,297.2 1845.7,297.6 1854.0,297.8 1874.0,298.4 1876.0,298.5 1894.0,299.1 1914.0,299.7 1929.7,300.2 1934.0,300.3 1954.0,300.9 1960.0,301.0 1974.0,301.3 1994.0,301.8 2014.0,302.2 2034.0,302.6 2050.0,303.0 2054.0,303.1 2074.0,303.5 2094.0,304.0 2114.0,304.5 2130.0,304.8 2134.0,304.9 2154.0,305.4 2174.0,305.8 2183.0,306.0 2194.0,306.3 2214.0,306.8 2234.0,307.3 2240.0,307.4 2254.0,307.8 2267.0,308.1 2274.0,308.4 2294.0,309.2 2297.0,309.3 2314.0,310.8 2322.0,311.9 2330.5,313.4" stroke="#66cd6d" stroke-width="2.2"/>
<polyline points="1774.0,274.0 1774.0,290.6 1777.0,293.0 1782.0,294.6 1792.5,295.8 1794.0,295.9 1814.0,296.6 1819.0,296.8 1834.0,297.2 1845.7,297.6 1854.0,297.8 1874.0,298.4 1876.0,298.5 1894.0,299.1 1914.0,299.7 1929.7,300.2 1934.0,300.3 1954.0,300.9 1960.0,301.0 1974.0,301.3 1994.0,301.8 2014.0,302.2 2034.0,302.6 2050.0,303.0 2054.0,303.1 2074.0,303.5 2094.0,304.0 2114.0,304.5 2130.0,304.8 2134.0,304.9 2154.0,305.4 2174.0,305.8 2183.0,306.0 2194.0,306.3 2214.0,306.8 2234.0,307.3 2240.0,307.4 2254.0,307.7 2267.0,308.1 2274.0,308.3 2294.0,309.1 2297.0,309.2 2314.0,310.5 2322.0,311.5 2330.5,312.8" stroke="#8dcb4f" stroke-width="2.2"/>
<polyline points="1774.0,274.0 1774.0,291.3 1777.0,293.4 1782.0,294.8 1792.5,295.8 1794.0,295.9 1814.0,296.6 1819.0,296.8 1834.0,297.2 1845.7,297.6 1854.0,297.8 1874.0,298.4 1876.0,298.5 1894.0,299.1 1914.0,299.7 1929.7,300.2 1934.0,300.3 1954.0,300.9 1960.0,301.0 1974.0,301.3 1994.0,301.8 2014.0,302.2 2034.0,302.6 2050.0,303.0 2054.0,303.1 2074.0,303.5 2094.0,304.0 2114.0,304.5 2130.0,304.8 2134.0,304.9 2154.0,305.4 2174.0,305.8 2183.0,306.0 2194.0,306.3 2214.0,306.8 2234.0,307.2 2240.0,307.4 2254.0,307.7 2267.0,308.1 2274.0,308.3 2294.0,308.9 2297.0,309.1 2314.0,310.2 2322.0,311.1 2330.5,312.3" stroke="#b3c534" stroke-width="2.2"/>
<polyline points="1774.0,274.0 1774.0,292.0 1777.0,293.9 1782.0,295.1 1792.5,295.9 1794.0,296.0 1814.0,296.6 1819.0,296.8 1834.0,297.2 1845.7,297.6 1854.0,297.8 1874.0,298.4 1876.0,298.5 1894.0,299.1 1914.0,299.7 1929.7,300.2 1934.0,300.3 1954.0,300.9 1960.0,301.0 1974.0,301.3 1994.0,301.8 2014.0,302.2 2034.0,302.6 2050.0,303.0 2054.0,303.1 2074.0,303.5 2094.0,304.0 2114.0,304.5 2130.0,304.8 2134.0,304.9 2154.0,305.4 2174.0,305.8 2183.0,306.0 2194.0,306.3 2214.0,306.8 2234.0,307.2 2240.0,307.4 2254.0,307.7 2267.0,308.0 2274.0,308.2 2294.0,308.9 2297.0,309.0 2314.0,309.9 2322.0,310.7 2330.5,311.8" stroke="#d4bf28" stroke-width="2.2"/>
<polyline points="1774.0,274.0 1774.0,292.7 1777.0,294.3 1782.0,295.3 1792.5,295.9 1794.0,296.0 1814.0,296.6 1819.0,296.8 1834.0,297.2 1845.7,297.6 1854.0,297.8 1874.0,298.4 1876.0,298.5 1894.0,299.1 1914.0,299.7 1929.7,300.2 1934.0,300.3 1954.0,300.9 1960.0,301.0 1974.0,301.3 1994.0,301.8 2014.0,302.2 2034.0,302.6 2050.0,303.0 2054.0,303.1 2074.0,303.5 2094.0,304.0 2114.0,304.5 2130.0,304.8 2134.0,304.9 2154.0,305.4 2174.0,305.8 2183.0,306.0 2194.0,306.3 2214.0,306.8 2234.0,307.2 2240.0,307.4 2254.0,307.7 2267.0,308.0 2274.0,308.2 2294.0,308.8 2297.0,308.9 2314.0,309.7 2322.0,310.3 2330.5,311.3" stroke="#f0ba36" stroke-width="2.2"/>
<polyline points="1774.0,274.0 1774.0,293.4 1777.0,294.7 1782.0,295.4 1792.5,296.0 1794.0,296.0 1814.0,296.6 1819.0,296.8 1834.0,297.2 1845.7,297.6 1854.0,297.8 1874.0,298.4 1876.0,298.5 1894.0,299.1 1914.0,299.7 1929.7,300.2 1934.0,300.4 1954.0,300.9 1960.0,301.0 1974.0,301.3 1994.0,301.8 2014.0,302.2 2034.0,302.6 2050.0,303.0 2054.0,303.1 2074.0,303.5 2094.0,304.0 2114.0,304.5 2130.0,304.8 2134.0,304.9 2154.0,305.4 2174.0,305.8 2183.0,306.0 2194.0,306.3 2214.0,306.8 2234.0,307.2 2240.0,307.4 2254.0,307.7 2267.0,308.0 2274.0,308.2 2294.0,308.7 2297.0,308.8 2314.0,309.5 2322.0,310.0 2330.5,310.8" stroke="#fec338" stroke-width="2.2"/>
<polyline points="1774.0,274.0 1774.0,294.1 1777.0,295.0 1782.0,295.6 1792.5,296.0 1794.0,296.0 1814.0,296.6 1819.0,296.8 1834.0,297.2 1845.7,297.6 1854.0,297.8 1874.0,298.4 1876.0,298.5 1894.0,299.1 1914.0,299.7 1929.7,300.2 1934.0,300.4 1954.0,300.9 1960.0,301.0 1974.0,301.3 1994.0,301.8 2014.0,302.2 2034.0,302.6 2050.0,303.0 2054.0,303.1 2074.0,303.5 2094.0,304.0 2114.0,304.5 2130.0,304.8 2134.0,304.9 2154.0,305.4 2174.0,305.8 2183.0,306.0 2194.0,306.3 2214.0,306.8 2234.0,307.2 2240.0,307.4 2254.0,307.7 2267.0,308.0 2274.0,308.2 2294.0,308.7 2297.0,308.8 2314.0,309.3 2322.0,309.7 2330.5,310.3" stroke="#fad62d" stroke-width="2.2"/>
<polyline points="1774.0,274.0 1774.0,294.8 1777.0,295.4 1782.0,295.7 1792.5,296.0 1794.0,296.0 1814.0,296.6 1819.0,296.8 1834.0,297.2 1845.7,297.6 1854.0,297.8 1874.0,298.4 1876.0,298.5 1894.0,299.1 1914.0,299.7 1929.7,300.2 1934.0,300.4 1954.0,300.9 1960.0,301.0 1974.0,301.3 1994.0,301.8 2014.0,302.2 2034.0,302.6 2050.0,303.0 2054.0,303.1 2074.0,303.5 2094.0,304.0 2114.0,304.5 2130.0,304.8 2134.0,304.9 2154.0,305.4 2174.0,305.8 2183.0,306.0 2194.0,306.3 2214.0,306.8 2234.0,307.2 2240.0,307.4 2254.0,307.7 2267.0,308.0 2274.0,308.2 2294.0,308.7 2297.0,308.7 2314.0,309.2 2322.0,309.4 2330.5,309.8" stroke="#f5e924" stroke-width="2.2"/>
<polyline points="1774.0,274.0 1774.0,295.5 1777.0,295.6 1782.0,295.7 1792.5,296.0 1794.0,296.0 1814.0,296.6 1819.0,296.8 1834.0,297.2 1845.7,297.6 1854.0,297.8 1874.0,298.4 1876.0,298.5 1894.0,299.1 1914.0,299.7 1929.7,300.2 1934.0,300.4 1954.0,300.9 1960.0,301.0 1974.0,301.3 1994.0,301.8 2014.0,302.2 2034.0,302.6 2050.0,303.0 2054.0,303.1 2074.0,303.5 2094.0,304.0 2114.0,304.5 2130.0,304.8 2134.0,304.9 2154.0,305.4 2174.0,305.8 2183.0,306.0 2194.0,306.3 2214.0,306.8 2234.0,307.2 2240.0,307.4 2254.0,307.7 2267.0,308.0 2274.0,308.2 2294.0,308.7 2297.0,308.7 2314.0,309.1 2322.0,309.2 2330.5,309.3" stroke="#f9fb15" stroke-width="2.2"/>
<polyline points="1774.0,274.0 1774.0,295.5 1800.0,296.2 1860.0,298.0 1945.0,300.7 2050.0,303.0 2120.0,304.6 2190.0,306.2 2300.0,308.8 2331.0,309.4 2333.6,317.0 2323.1,325.0 2312.8,333.0 2302.7,341.0 2292.9,349.0 2283.3,357.0 2273.9,365.0 2264.7,373.0 2255.7,381.0 2246.9,389.0 2238.2,397.0 2229.8,405.0 2221.5,413.0 2213.4,421.0 2205.4,429.0 2197.7,437.0 2190.0,445.0 2182.5,453.0 2175.2,461.0 2168.0,469.0 2160.9,477.0 2154.0,485.0 2147.1,493.0 2140.4,501.0 2133.9,509.0 2127.4,517.0 2121.1,525.0 2114.8,533.0 2108.7,541.0 2102.7,549.0 2096.8,557.0 2091.0,565.0 2085.3,573.0 2079.6,581.0 2074.1,589.0 2068.7,597.0 2063.3,605.0 2058.1,613.0 2052.9,621.0 2047.8,629.0 2042.8,637.0 2037.8,645.0 2033.0,653.0 2028.2,661.0 2023.5,669.0 2018.9,677.0 2014.3,685.0 2009.8,693.0 2005.4,701.0 2001.1,709.0 1996.8,717.0 1992.5,725.0 1988.4,733.0 1984.3,741.0 1980.2,749.0 1976.3,757.0 1972.4,765.0 1968.5,773.0 1964.7,781.0 1960.9,789.0 1957.3,797.0 1953.6,805.0 1950.0,813.0 1947.8,818.0" stroke="#f9fb15" stroke-width="3.8"/>
<polyline points="1774.0,274.0 1777.0,279.0 1782.0,282.0 1792.5,284.8 1819.0,289.0 1845.7,292.0 1876.0,295.4 1929.7,297.5 1960.0,299.4 2050.0,302.5 2130.0,305.5 2183.0,308.3 2240.0,312.0 2267.0,314.4 2297.0,319.4 2322.0,326.0" stroke="#000" stroke-width="11.8" stroke-dasharray="52.5 31.9" stroke-dashoffset="62.2"/>
<polyline id="red3" points="1945.2,824.0 1947.4,819.0 1949.6,814.0 1951.8,809.0 1954.1,804.0 1956.3,799.0 1958.6,794.0 1960.9,789.0 1963.3,784.0 1965.6,779.0 1968.0,774.0 1970.4,769.0 1972.8,764.0 1975.3,759.0 1977.8,754.0 1980.2,749.0 1982.8,744.0 1985.3,739.0 1987.9,734.0 1990.5,729.0 1993.1,724.0 1995.7,719.0 1998.4,714.0 2001.1,709.0 2003.8,704.0 2006.5,699.0 2009.3,694.0 2012.1,689.0 2014.9,684.0 2017.7,679.0 2020.6,674.0 2023.5,669.0 2026.4,664.0 2029.4,659.0 2032.4,654.0 2035.4,649.0 2038.5,644.0 2041.5,639.0 2044.6,634.0 2047.8,629.0 2051.0,624.0 2054.2,619.0 2057.4,614.0 2060.7,609.0 2064.0,604.0 2067.3,599.0 2070.7,594.0 2074.1,589.0 2077.6,584.0 2081.0,579.0 2084.5,574.0 2088.1,569.0 2091.7,564.0 2095.3,559.0 2099.0,554.0 2102.7,549.0 2106.5,544.0 2110.2,539.0 2114.1,534.0 2117.9,529.0 2121.9,524.0 2125.8,519.0 2129.8,514.0 2133.9,509.0 2138.0,504.0 2142.1,499.0 2146.3,494.0 2150.5,489.0 2154.8,484.0 2159.1,479.0 2163.5,474.0 2168.0,469.0 2172.5,464.0 2177.0,459.0 2181.6,454.0 2186.3,449.0 2191.0,444.0 2195.7,439.0 2200.6,434.0 2205.4,429.0 2210.4,424.0 2215.4,419.0 2220.5,414.0 2225.6,409.0 2230.8,404.0 2236.1,399.0 2241.4,394.0 2246.9,389.0 2252.3,384.0 2257.9,379.0 2263.5,374.0 2269.2,369.0 2275.0,364.0 2280.9,359.0 2286.8,354.0 2292.9,349.0 2299.0,344.0 2305.2,339.0 2311.5,334.0 2317.9,329.0 2324.4,324.0 2330.9,319.0 2336.3,315.0" stroke="#ff0000" stroke-width="12" stroke-dasharray="52.5 31.9" stroke-dashoffset="79"/>
<polyline points="1945.2,824.0 1946.9,820.0 1949.6,814.0" stroke="#ff0000" stroke-width="12"/>
</g>
</g>
<g id="labels" style="font-kerning:none;white-space:pre">
<text x="374.46" y="874.20" font-size="55" textLength="28.08" lengthAdjust="spacingAndGlyphs">0</text>
<text x="586.69" y="874.20" font-size="55" textLength="92.49" lengthAdjust="spacingAndGlyphs">0.01</text>
<text x="832.16" y="874.20" font-size="55" textLength="93.59" lengthAdjust="spacingAndGlyphs">0.02</text>
<text x="1059.31" y="874.20" font-size="55" textLength="27.49" lengthAdjust="spacingAndGlyphs">0</text>
<text x="1235.66" y="874.20" font-size="55" textLength="93.80" lengthAdjust="spacingAndGlyphs">0.02</text>
<text x="1444.97" y="874.20" font-size="55" textLength="93.37" lengthAdjust="spacingAndGlyphs">0.04</text>
<text x="1654.28" y="874.20" font-size="55" textLength="92.59" lengthAdjust="spacingAndGlyphs">0.06</text>
<text x="1760.57" y="874.20" font-size="55" textLength="27.96" lengthAdjust="spacingAndGlyphs">0</text>
<text x="2041.57" y="874.20" font-size="55" textLength="93.42" lengthAdjust="spacingAndGlyphs">0.05</text>
<text x="2368.05" y="874.20" font-size="55" textLength="67.39" lengthAdjust="spacingAndGlyphs">0.1</text>
<text x="333.44" y="144.60" font-size="56" textLength="28.05" lengthAdjust="spacingAndGlyphs">5</text>
<text x="333.85" y="317.30" font-size="56" textLength="28.20" lengthAdjust="spacingAndGlyphs">0</text>
<text font-size="56"><tspan x="295.49" y="493.29" textLength="39.75" lengthAdjust="spacingAndGlyphs">−</tspan><tspan x="333.77" y="489.30" textLength="27.80" lengthAdjust="spacingAndGlyphs">5</tspan></text>
<text font-size="56"><tspan x="269.38" y="665.29" textLength="39.87" lengthAdjust="spacingAndGlyphs">−</tspan><tspan x="308.05" y="661.30" textLength="54.00" lengthAdjust="spacingAndGlyphs">10</tspan></text>
<text font-size="56"><tspan x="269.38" y="837.29" textLength="39.87" lengthAdjust="spacingAndGlyphs">−</tspan><tspan x="308.05" y="833.30" textLength="54.06" lengthAdjust="spacingAndGlyphs">15</tspan></text>
<text x="124.63" y="72.00" font-size="50" textLength="24.29" lengthAdjust="spacingAndGlyphs">1</text>
<text x="87.83" y="213.40" font-size="50" textLength="61.23" lengthAdjust="spacingAndGlyphs">0.8</text>
<text x="87.85" y="354.80" font-size="50" textLength="60.80" lengthAdjust="spacingAndGlyphs">0.6</text>
<text x="87.87" y="496.20" font-size="50" textLength="60.08" lengthAdjust="spacingAndGlyphs">0.4</text>
<text x="87.81" y="637.60" font-size="50" textLength="62.14" lengthAdjust="spacingAndGlyphs">0.2</text>
<text x="124.09" y="779.00" font-size="50" textLength="25.13" lengthAdjust="spacingAndGlyphs">0</text>
<text font-size="58" stroke-width="0.3"><tspan x="596.47" y="940.00" textLength="31.51" lengthAdjust="spacingAndGlyphs">u</tspan><tspan> </tspan><tspan x="649.33" y="945.30" font-size="71.4" textLength="12.86" lengthAdjust="spacingAndGlyphs">[</tspan><tspan x="661.71" y="940.00" textLength="47.64" lengthAdjust="spacingAndGlyphs">m</tspan><tspan x="712.00" y="954.00" font-size="88.3" stroke="none" textLength="23.10" lengthAdjust="spacingAndGlyphs">/</tspan><tspan x="736.14" y="940.00" textLength="25.19" lengthAdjust="spacingAndGlyphs">s</tspan><tspan x="759.00" y="945.30" font-size="71.4" textLength="12.86" lengthAdjust="spacingAndGlyphs">]</tspan></text>
<text font-size="58" stroke-width="0.3"><tspan x="1297.47" y="940.00" textLength="31.51" lengthAdjust="spacingAndGlyphs">u</tspan><tspan> </tspan><tspan x="1350.33" y="945.30" font-size="71.4" textLength="12.86" lengthAdjust="spacingAndGlyphs">[</tspan><tspan x="1362.71" y="940.00" textLength="47.64" lengthAdjust="spacingAndGlyphs">m</tspan><tspan x="1413.00" y="954.00" font-size="88.3" stroke="none" textLength="23.10" lengthAdjust="spacingAndGlyphs">/</tspan><tspan x="1437.14" y="940.00" textLength="25.19" lengthAdjust="spacingAndGlyphs">s</tspan><tspan x="1460.00" y="945.30" font-size="71.4" textLength="12.86" lengthAdjust="spacingAndGlyphs">]</tspan></text>
<text font-size="58" stroke-width="0.3"><tspan x="1998.57" y="940.00" textLength="31.51" lengthAdjust="spacingAndGlyphs">u</tspan><tspan> </tspan><tspan x="2051.43" y="945.30" font-size="71.4" textLength="12.86" lengthAdjust="spacingAndGlyphs">[</tspan><tspan x="2063.81" y="940.00" textLength="47.64" lengthAdjust="spacingAndGlyphs">m</tspan><tspan x="2114.10" y="954.00" font-size="88.3" stroke="none" textLength="23.10" lengthAdjust="spacingAndGlyphs">/</tspan><tspan x="2138.24" y="940.00" textLength="25.19" lengthAdjust="spacingAndGlyphs">s</tspan><tspan x="2161.10" y="945.30" font-size="71.4" textLength="12.86" lengthAdjust="spacingAndGlyphs">]</tspan></text>
<text font-size="58" transform="rotate(-90)"><tspan x="-484.98" y="289.70" textLength="24.52" lengthAdjust="spacingAndGlyphs">z</tspan><tspan> </tspan><tspan x="-437.67" y="294.30" font-size="71.4" textLength="12.86" lengthAdjust="spacingAndGlyphs">[</tspan><tspan x="-425.09" y="289.70" textLength="47.75" lengthAdjust="spacingAndGlyphs">m</tspan><tspan x="-378.90" y="294.30" font-size="71.4" textLength="12.86" lengthAdjust="spacingAndGlyphs">]</tspan></text>
<text font-size="48" transform="rotate(-90)"><tspan x="-493.83" y="52.70" font-style="italic" textLength="15.57" lengthAdjust="spacingAndGlyphs">f</tspan><tspan x="-474.88" y="60.70" font-size="34" textLength="44.29" lengthAdjust="spacingAndGlyphs">cut</tspan><tspan> </tspan><tspan x="-407.97" y="57.10" font-size="57.6" textLength="10.17" lengthAdjust="spacingAndGlyphs">[</tspan><tspan x="-398.43" y="52.90" font-size="50" textLength="35.89" lengthAdjust="spacingAndGlyphs">H</tspan><tspan x="-362.41" y="52.90" font-size="46" textLength="20.07" lengthAdjust="spacingAndGlyphs">z</tspan><tspan x="-343.30" y="57.10" font-size="57.6" textLength="11.07" lengthAdjust="spacingAndGlyphs">]</tspan></text>
</g>
</svg></body></html>
